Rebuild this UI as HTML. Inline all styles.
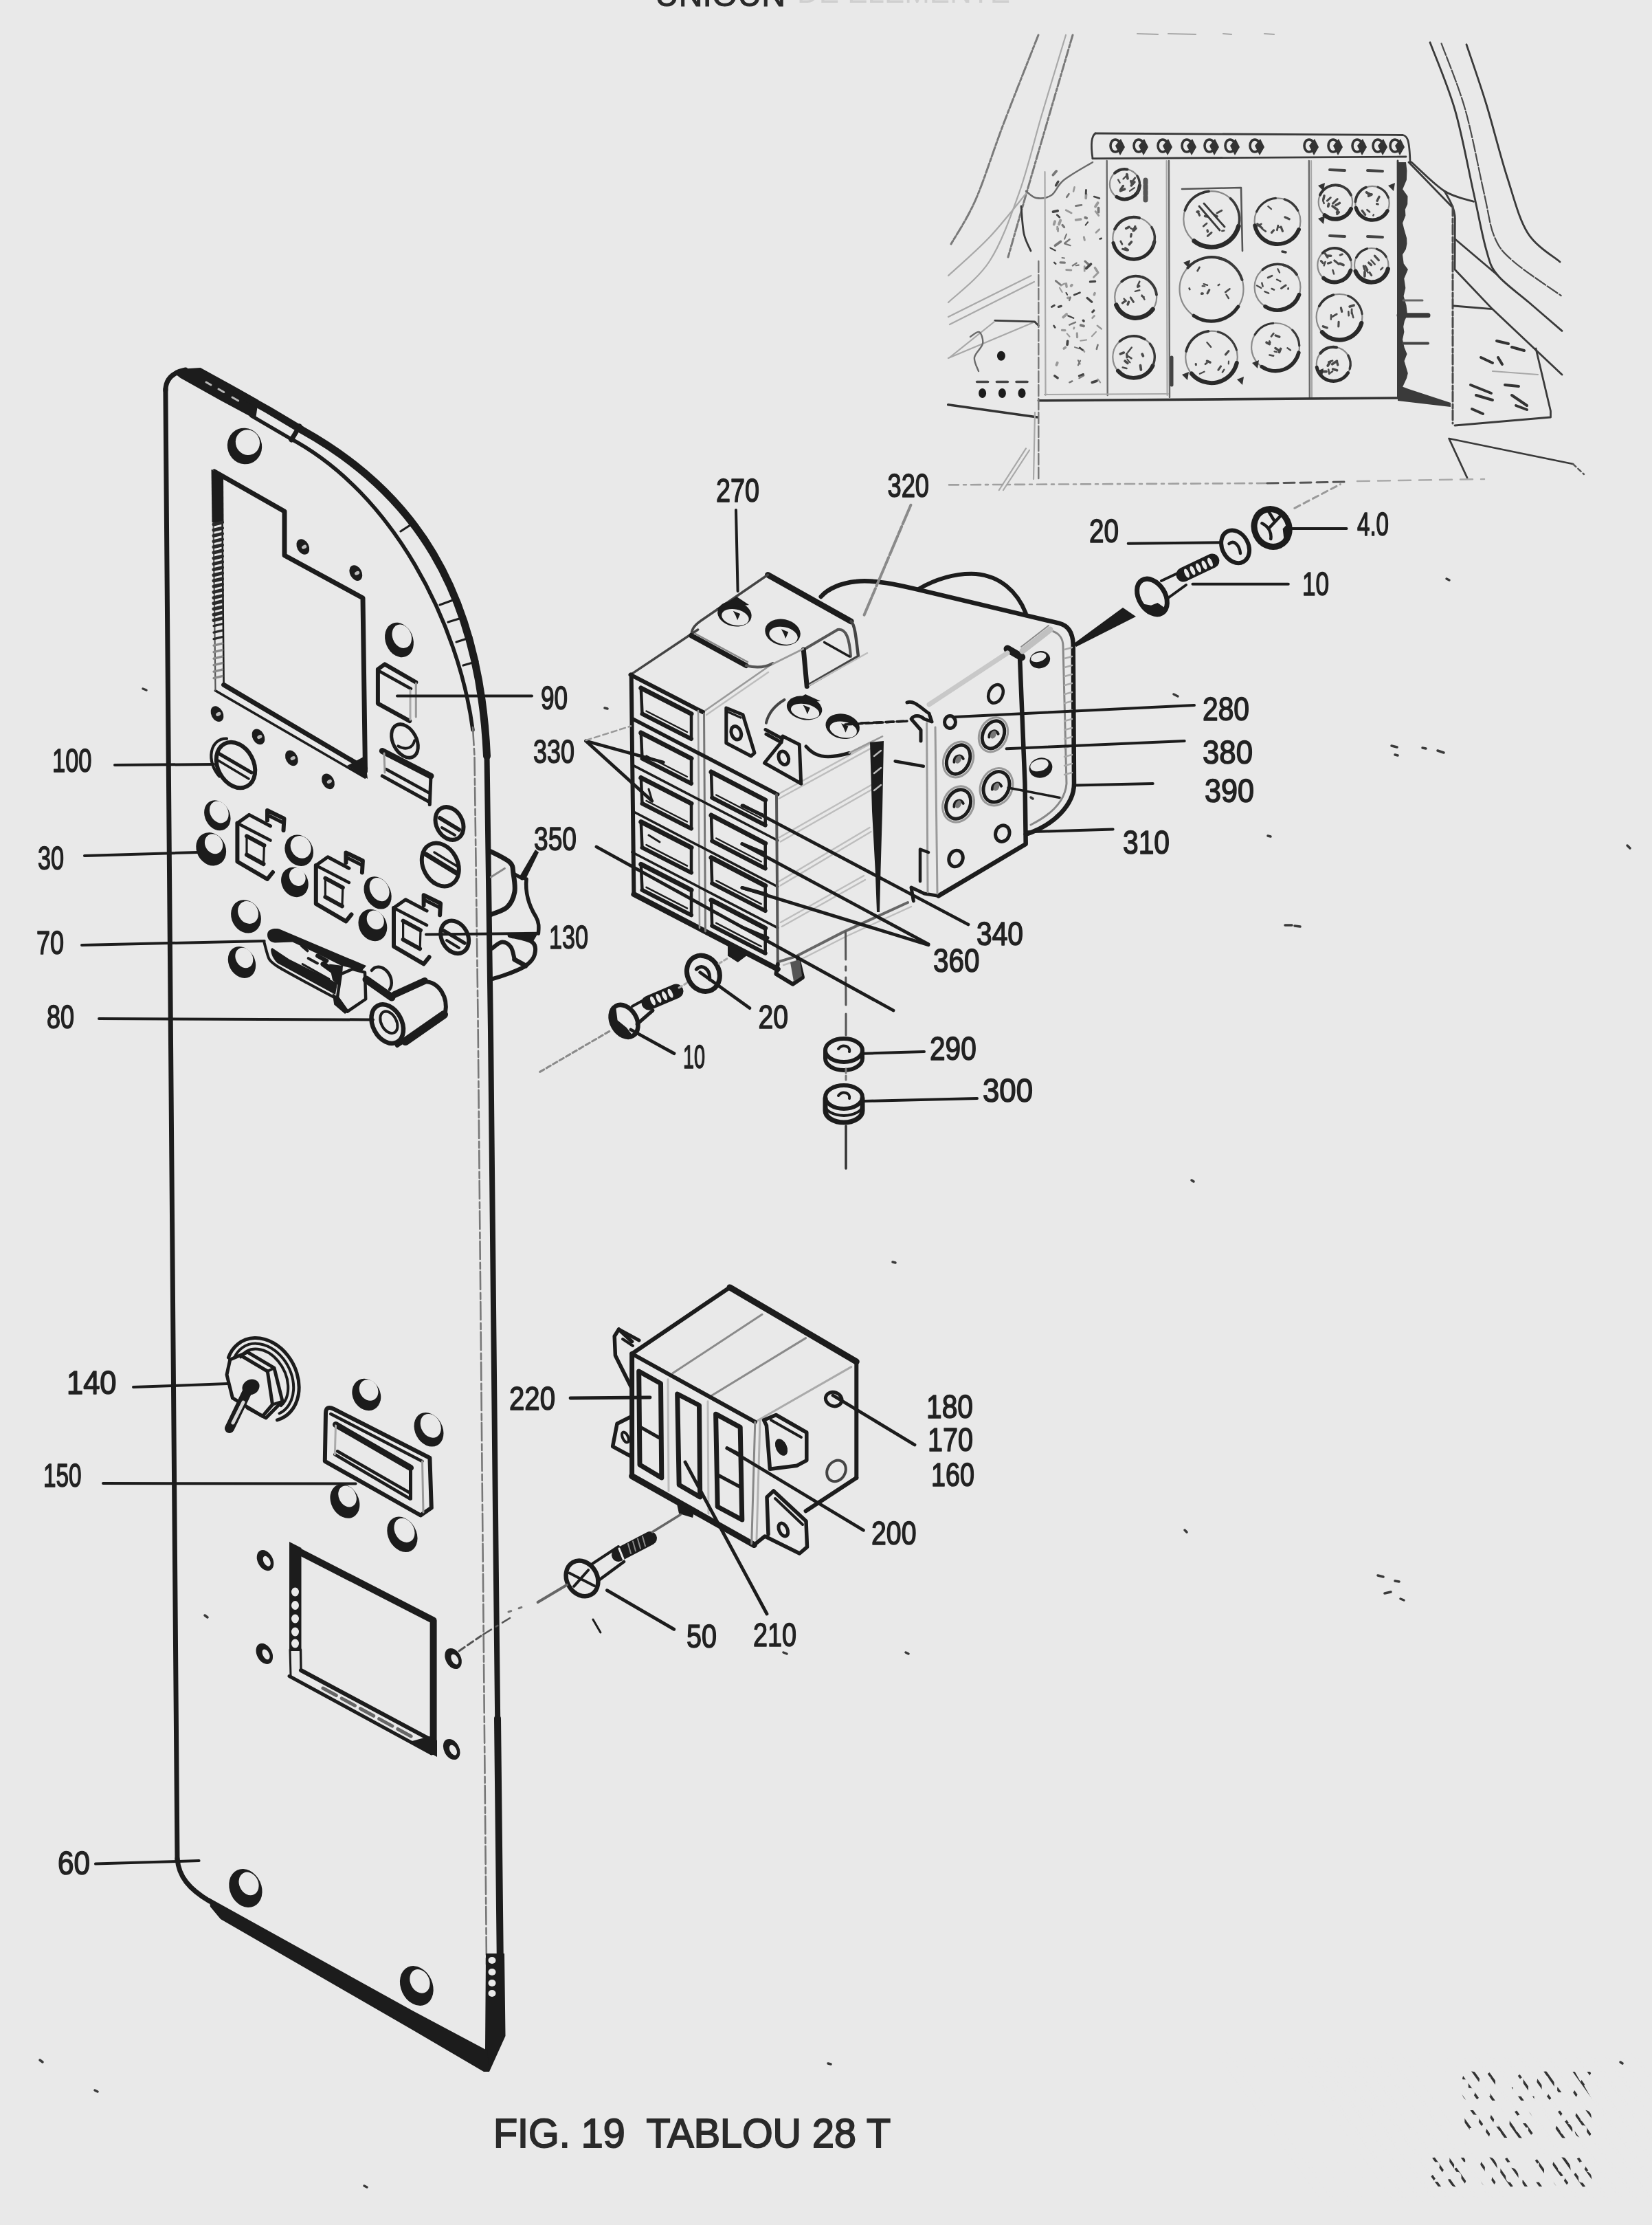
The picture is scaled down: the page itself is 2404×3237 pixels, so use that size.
<!DOCTYPE html>
<html><head><meta charset="utf-8"><title>FIG. 19 TABLOU 28 T</title>
<style>
html,body{margin:0;padding:0;background:#e9e9e9;}
body{width:2404px;height:3237px;overflow:hidden;font-family:"Liberation Sans",sans-serif;}
svg{display:block;position:absolute;left:0;top:0;filter:blur(0.6px);}
.k{fill:none;stroke:#1c1c1c;stroke-width:5;stroke-linecap:round;stroke-linejoin:round;}
.k3{fill:none;stroke:#1c1c1c;stroke-width:3.2;stroke-linecap:round;stroke-linejoin:round;}
.k4{fill:none;stroke:#1c1c1c;stroke-width:4;stroke-linecap:round;stroke-linejoin:round;}
.k6{fill:none;stroke:#1c1c1c;stroke-width:6.5;stroke-linecap:round;stroke-linejoin:round;}
.k8{fill:none;stroke:#1c1c1c;stroke-width:9;stroke-linecap:round;stroke-linejoin:round;}
.t{fill:none;stroke:#2a2a2a;stroke-width:2.4;stroke-linecap:round;stroke-linejoin:round;}
.g{fill:none;stroke:#8a8a8a;stroke-width:2;stroke-linecap:round;stroke-linejoin:round;}
.g2{fill:none;stroke:#b4b4b4;stroke-width:2.2;stroke-linecap:round;stroke-linejoin:round;}
.f{fill:#1c1c1c;stroke:none;}
.w{fill:#e9e9e9;stroke:none;}
.lb{font-family:"Liberation Sans",sans-serif;font-weight:normal;font-size:49px;fill:#222;stroke:#222;stroke-width:1.6px;stroke-linejoin:round;}
</style></head><body>
<svg width="2404" height="3237" viewBox="0 0 2404 3237">
<rect x="0" y="0" width="2404" height="3237" fill="#e9e9e9"/>
<path class="k" d="M240.9 566 L258 2706" style="stroke-width:7"/>
<path class="k" d="M240.9 568 C241 552 250 542 270 538" style="stroke-width:7"/>
<path class="f" d="M268 536.5 L291.7 535 L339 560.9 L376 582 L372 610 L320.8 582.5 L262.7 550 L255 544 Z"/>
<path class="k" d="M300 556 L307 560" style="stroke:#b8b8b8;stroke-width:3"/>
<path class="k" d="M318 566 L325.8 570.5" style="stroke:#b8b8b8;stroke-width:3"/>
<path class="k" d="M338 578 L346.7 583" style="stroke:#b8b8b8;stroke-width:3"/>
<path class="k" d="M345 571 L390.5 596.5 L440 626 C600 715 697.8 856.3 708.5 1100" style="stroke-width:11"/>
<path class="k" d="M424 640 L436 620" style="stroke-width:7"/>
<path class="k" d="M708.5 1098 L714 1500 L722 2300 L728.5 2900" style="stroke-width:8"/>
<path class="k" d="M724 2500 L729 2962" style="stroke-width:10"/>
<path class="k" d="M366 605 L420.7 637 C572.9 717.2 668 908.5 688 1062" style="stroke-width:5.5"/>
<path class="k3" d="M583 773 L600 762"/>
<path class="k3" d="M640 880 L662 872"/>
<path class="k3" d="M652 905 L675 898"/>
<path class="k3" d="M664 934 L686 927"/>
<path class="k3" d="M674 968 L695 962"/>
<path class="g" d="M688 1058 L690.5 1100 L695.5 1480 L703 2300 L708 2860" style="stroke:#777;stroke-width:2.6;stroke-dasharray:26 5 9 4"/>
<path class="f" d="M707 2842 L734 2842 L735.5 2962 L712 3014 L700 3010 L706 2982 Z"/>
<ellipse class="w" cx="716" cy="2852" rx="5.5" ry="5"/>
<ellipse class="w" cx="716" cy="2869" rx="5.5" ry="5"/>
<ellipse class="w" cx="716" cy="2885" rx="5.5" ry="5"/>
<ellipse class="w" cx="716" cy="2900" rx="5.5" ry="5"/>
<path class="f" d="M304 2761 L600 2925 L709 2983 L712 3014 L704 3014 L600 2953 L321 2792 L306 2774 Z"/>
<path class="k" d="M258 2704 C260 2730 275 2748 305 2766" style="stroke-width:7"/>
<g transform="translate(356 649) rotate(-20)"><ellipse class="f" rx="25" ry="26.5"/><ellipse class="w" cx="6" cy="-3.5" rx="17.5" ry="18.5"/></g>
<g transform="translate(581 931) rotate(-22)"><ellipse class="f" rx="20" ry="26"/><ellipse class="w" cx="5.5" cy="-3.5" rx="13.6" ry="17.7"/></g>
<g transform="translate(357.4 2747) rotate(-25)"><ellipse class="f" rx="23" ry="29"/><ellipse class="w" cx="7" cy="-4" rx="13.8" ry="17.4"/></g>
<g transform="translate(606.3 2889) rotate(-25)"><ellipse class="f" rx="23" ry="30"/><ellipse class="w" cx="7" cy="-4" rx="13.8" ry="18"/></g>

<path class="k" d="M312 686 L414 744 L414 808 L528 870 L531.5 1122" style="stroke-width:7"/>
<path class="k" d="M531.5 1118 L325.6 996.3" style="stroke-width:7"/>
<path class="k" d="M531 1131 L313.5 1004.8" style="stroke-width:3.6"/>
<path class="f" d="M531 1100 L535 1133 L505 1114 Z"/>
<path class="k" d="M309.6 684 L313.5 1004" style="stroke-width:2.2;stroke:#555"/>
<path class="k" d="M323 696 L325.6 996" style="stroke-width:2.6"/>
<path class="f" d="M307.5 683 L325 694 L325.5 760 L308.5 760 Z"/>
<path class="k" d="M311 763 L323.5 760" style="stroke-width:5.0;stroke:#2a2a2a"/>
<path class="k" d="M311 771.2 L323.5 768.2" style="stroke-width:5.0;stroke:#2a2a2a"/>
<path class="k" d="M311 779.4 L323.5 776.4" style="stroke-width:5.0;stroke:#2a2a2a"/>
<path class="k" d="M311 787.6 L323.5 784.6" style="stroke-width:5.0;stroke:#2a2a2a"/>
<path class="k" d="M311 795.8 L323.5 792.8" style="stroke-width:5.0;stroke:#2a2a2a"/>
<path class="k" d="M311 804 L323.5 801" style="stroke-width:5.0;stroke:#2a2a2a"/>
<path class="k" d="M311 812.2 L323.5 809.2" style="stroke-width:5.0;stroke:#2a2a2a"/>
<path class="k" d="M311 820.4 L323.5 817.4" style="stroke-width:5.0;stroke:#2a2a2a"/>
<path class="k" d="M311 828.6 L323.5 825.6" style="stroke-width:5.0;stroke:#2a2a2a"/>
<path class="k" d="M311 836.8 L323.5 833.8" style="stroke-width:5.0;stroke:#2a2a2a"/>
<path class="k" d="M311 845 L323.5 842" style="stroke-width:5.0;stroke:#2a2a2a"/>
<path class="k" d="M311 853.2 L323.5 850.2" style="stroke-width:5.0;stroke:#2a2a2a"/>
<path class="k" d="M311 861.4 L323.5 858.4" style="stroke-width:5.0;stroke:#2a2a2a"/>
<path class="k" d="M311 869.6 L323.5 866.6" style="stroke-width:5.0;stroke:#2a2a2a"/>
<path class="k" d="M311 877.8 L323.5 874.8" style="stroke-width:5.0;stroke:#2a2a2a"/>
<path class="k" d="M311 886 L323.5 883" style="stroke-width:5.0;stroke:#2a2a2a"/>
<path class="k" d="M311 894.2 L323.5 891.2" style="stroke-width:5.0;stroke:#2a2a2a"/>
<path class="k" d="M311 902.4 L323.5 899.4" style="stroke-width:5.0;stroke:#2a2a2a"/>
<path class="k" d="M311 910.6 L323.5 907.6" style="stroke-width:3.2;stroke:#2a2a2a"/>
<path class="k" d="M311 920.1 L323.5 917.1" style="stroke-width:3.2;stroke:#2a2a2a"/>
<path class="k" d="M311 929.6 L323.5 926.6" style="stroke-width:3.2;stroke:#2a2a2a"/>
<path class="k" d="M311 939.1 L323.5 936.1" style="stroke-width:3.2;stroke:#8a8a8a"/>
<path class="k" d="M311 948.6 L323.5 945.6" style="stroke-width:3.2;stroke:#8a8a8a"/>
<path class="k" d="M311 958.1 L323.5 955.1" style="stroke-width:3.2;stroke:#8a8a8a"/>
<path class="k" d="M311 967.6 L323.5 964.6" style="stroke-width:3.2;stroke:#8a8a8a"/>
<path class="k" d="M311 977.1 L323.5 974.1" style="stroke-width:3.2;stroke:#8a8a8a"/>
<path class="k" d="M311 986.6 L323.5 983.6" style="stroke-width:3.2;stroke:#8a8a8a"/>
<g transform="translate(440.8 795.5) rotate(-28)"><ellipse class="f" rx="8.5" ry="12"/><ellipse cx="1.5" cy="1" rx="3.8" ry="2.6" fill="#bbb"/></g>
<g transform="translate(517.8 833.6) rotate(-28)"><ellipse class="f" rx="8.5" ry="12"/><ellipse cx="1.5" cy="1" rx="3.8" ry="2.6" fill="#bbb"/></g>
<g transform="translate(316 1038.7) rotate(-28)"><ellipse class="f" rx="8.5" ry="12"/><ellipse cx="1.5" cy="1" rx="3.8" ry="2.6" fill="#bbb"/></g>
<g transform="translate(376 1071.9) rotate(-28)"><ellipse class="f" rx="8.5" ry="12"/><ellipse cx="1.5" cy="1" rx="3.8" ry="2.6" fill="#bbb"/></g>
<g transform="translate(424.4 1102.9) rotate(-28)"><ellipse class="f" rx="8.5" ry="12"/><ellipse cx="1.5" cy="1" rx="3.8" ry="2.6" fill="#bbb"/></g>
<g transform="translate(477.5 1136.8) rotate(-28)"><ellipse class="f" rx="8.5" ry="12"/><ellipse cx="1.5" cy="1" rx="3.8" ry="2.6" fill="#bbb"/></g>
<path class="k" d="M429 2254 L630.6 2357.4 L630.6 2548" style="stroke-width:10"/>
<path class="f" d="M421 2243 L438.5 2252 L438.5 2402 L421 2402 Z"/>
<ellipse class="w" cx="429.5" cy="2316" rx="5.5" ry="6.5"/>
<ellipse class="w" cx="429.5" cy="2335.5" rx="5.5" ry="6.5"/>
<ellipse class="w" cx="429.5" cy="2355" rx="5.5" ry="6.5"/>
<ellipse class="w" cx="429.5" cy="2374" rx="5.5" ry="6.5"/>
<ellipse class="w" cx="429.5" cy="2391" rx="5.5" ry="6.5"/>
<path class="k" d="M422 2400 L423 2438" style="stroke-width:3"/>
<path class="k" d="M437.5 2400 L438 2430" style="stroke-width:3.4"/>
<path class="k" d="M438 2430 L628 2531.7" style="stroke-width:6"/>
<path class="k" d="M421 2438.5 L628 2551" style="stroke-width:5"/>
<path class="f" d="M625 2526 L636 2532 L636 2556 L596 2534 Z"/>
<path class="k" d="M470 2456 L600 2527" style="stroke-width:5;stroke:#666;stroke-dasharray:22 9"/>
<g transform="translate(386 2270.2) rotate(-28)"><ellipse class="f" rx="11" ry="16"/><ellipse class="w" cx="1.5" cy="2" rx="4.6" ry="8"/></g>
<g transform="translate(384.8 2405.8) rotate(-28)"><ellipse class="f" rx="11" ry="16"/><ellipse class="w" cx="1.5" cy="2" rx="4.6" ry="8"/></g>
<g transform="translate(659.6 2413) rotate(-28)"><ellipse class="f" rx="11" ry="16"/><ellipse class="w" cx="1.5" cy="2" rx="4.6" ry="8"/></g>
<g transform="translate(657.2 2545) rotate(-28)"><ellipse class="f" rx="11" ry="16"/><ellipse class="w" cx="1.5" cy="2" rx="4.6" ry="8"/></g>
<path class="g" d="M668 2402 L700 2380" style="stroke:#555;stroke-width:3;stroke-dasharray:10 5"/>
<path class="g" d="M703 2378 L742 2354" style="stroke:#555;stroke-width:2.6;stroke-dasharray:14 8 3 8"/>

<g transform="translate(343 1113) rotate(-28)"><ellipse class="k" rx="26" ry="35" style="stroke-width:6"/><path class="k" style="stroke-width:4.199999999999999" d="M-28.7 3.5 A26 35 0 0 1 6.5 -40"/></g>
<path class="k" d="M318 1096 L366 1124" style="stroke-width:5"/>
<path class="k" d="M317 1106 L362 1133" style="stroke-width:3.5"/>
<g transform="translate(316.3 1186.3) rotate(-28)"><ellipse class="f" rx="18" ry="23"/><ellipse class="w" cx="4.5" cy="-3.1" rx="13" ry="16.6"/></g>
<g transform="translate(307.2 1235.3) rotate(-28)"><ellipse class="f" rx="21" ry="25"/><ellipse class="w" cx="7" cy="-4.9" rx="12.6" ry="15"/></g>
<g transform="translate(435.2 1237.2) rotate(-28)"><ellipse class="f" rx="20" ry="23.5"/><ellipse class="w" cx="4.5" cy="-3.1" rx="14.4" ry="16.9"/></g>
<g transform="translate(428.9 1283.5) rotate(-28)"><ellipse class="f" rx="19" ry="22.5"/><ellipse class="w" cx="7" cy="-4.9" rx="11.4" ry="13.5"/></g>
<g transform="translate(358 1333.4) rotate(-28)"><ellipse class="f" rx="21" ry="25"/><ellipse class="w" cx="5.5" cy="-3.8" rx="14.3" ry="17"/></g>
<g transform="translate(549.6 1298.9) rotate(-28)"><ellipse class="f" rx="18.5" ry="25"/><ellipse class="w" cx="4.5" cy="-3.1" rx="13.3" ry="18"/></g>
<g transform="translate(542.4 1346) rotate(-28)"><ellipse class="f" rx="20" ry="24"/><ellipse class="w" cx="7" cy="-4.9" rx="12" ry="14.4"/></g>
<g transform="translate(352 1400) rotate(-28)"><ellipse class="f" rx="19" ry="24"/><ellipse class="w" cx="6" cy="-4.2" rx="12.2" ry="15.4"/></g>
<path class="k" d="M345.4 1197.6 L345.4 1253.5 L389 1279 L397 1269" style="stroke-width:6"/>
<path class="k" d="M345.4 1197.6 L362.6 1185.4 L393.5 1201.8" style="stroke-width:5"/>
<path class="k" d="M349 1199.5 L393.5 1222.6" style="stroke-width:4.5"/>
<path class="k" d="M359 1216.3 L384.4 1230" style="stroke-width:6"/>
<path class="k" d="M359 1243.5 L383.5 1257" style="stroke-width:6"/>
<path class="k3" d="M359 1216.3 L359 1243.5"/>
<path class="k3" d="M384.4 1230 L383.5 1257"/>
<path class="k" d="M389 1193.6 L389 1179 L413.5 1190.9 L412.5 1208" style="stroke-width:6"/>
<path class="k" d="M390 1186 L412 1197" style="stroke-width:5"/>
<path class="k" d="M459.8 1259 L459.8 1314.9 L503.4 1340.4 L511.4 1330.4" style="stroke-width:6"/>
<path class="k" d="M459.8 1259 L477 1246.8 L507.9 1263.2" style="stroke-width:5"/>
<path class="k" d="M463.4 1260.9 L507.9 1284" style="stroke-width:4.5"/>
<path class="k" d="M473.4 1277.7 L498.8 1291.4" style="stroke-width:6"/>
<path class="k" d="M473.4 1304.9 L497.9 1318.4" style="stroke-width:6"/>
<path class="k3" d="M473.4 1277.7 L473.4 1304.9"/>
<path class="k3" d="M498.8 1291.4 L497.9 1318.4"/>
<path class="k" d="M503.4 1255 L503.4 1240.4 L527.9 1252.3 L526.9 1269.4" style="stroke-width:6"/>
<path class="k" d="M504.4 1247.4 L526.4 1258.4" style="stroke-width:5"/>
<path class="k" d="M573 1320.9 L573 1376.8 L616.6 1402.3 L624.6 1392.3" style="stroke-width:6"/>
<path class="k" d="M573 1320.9 L590.2 1308.7 L621.1 1325.1" style="stroke-width:5"/>
<path class="k" d="M576.6 1322.8 L621.1 1345.9" style="stroke-width:4.5"/>
<path class="k" d="M586.6 1339.6 L612 1353.3" style="stroke-width:6"/>
<path class="k" d="M586.6 1366.8 L611.1 1380.3" style="stroke-width:6"/>
<path class="k3" d="M586.6 1339.6 L586.6 1366.8"/>
<path class="k3" d="M612 1353.3 L611.1 1380.3"/>
<path class="k" d="M616.6 1316.9 L616.6 1302.3 L641.1 1314.2 L640.1 1331.3" style="stroke-width:6"/>
<path class="k" d="M617.6 1309.3 L639.6 1320.3" style="stroke-width:5"/>
<path class="k" d="M605.3 992.7 L559.9 966.3 L549.9 973.6 L549.9 1023.5 L596.2 1049" style="stroke-width:6"/>
<path class="k" d="M553 977 L598 1002" style="stroke-width:4.5"/>
<path class="g" d="M605.3 994 L605.3 1043" style="stroke:#999;stroke-width:3"/>
<path class="g" d="M597 1004 L597 1047" style="stroke:#aaa;stroke-width:3"/>
<g transform="translate(589 1078) rotate(-28)"><ellipse class="k" rx="17" ry="26" style="stroke-width:5"/><path class="k" style="stroke-width:4" d="M-12 2 C-4 14 6 14 13 6"/></g>
<path class="k" d="M556.3 1092.5 L627 1128.9" style="stroke-width:9"/>
<path class="k" d="M627 1128.9 L625.3 1170.6" style="stroke-width:5"/>
<path class="k" d="M556.3 1128.9 L625.3 1167" style="stroke-width:5"/>
<path class="k" d="M561.7 1119 L623.5 1153" style="stroke-width:4.5"/>
<path class="g" d="M559 1096 L560 1124" style="stroke:#999;stroke-width:3"/>
<g transform="translate(654 1198) rotate(-28)"><ellipse class="k" rx="19" ry="25" style="stroke-width:6"/></g>
<path class="k" d="M640 1190 L668 1207" style="stroke-width:6"/>
<path class="k" d="M643 1204 L662 1215" style="stroke-width:4"/>
<g transform="translate(640.8 1258) rotate(-28)"><ellipse class="k" rx="25" ry="33" style="stroke-width:6"/></g>
<path class="k" d="M620 1243 L664 1270" style="stroke-width:7"/>
<path class="k" d="M632 1240 L668 1262" style="stroke-width:3.5"/>
<g transform="translate(661.7 1363.3) rotate(-28)"><ellipse class="k" rx="19" ry="25" style="stroke-width:6"/></g>
<path class="k" d="M646 1354 L676 1372" style="stroke-width:5.5"/>
<path class="k" d="M650 1368 L668 1379" style="stroke-width:4"/>
<path class="f" d="M389 1360 C389 1352 398 1350 406.3 1351.5 L533 1405 L527 1412 L497 1405 L462 1387.5 L425.7 1370.5 L400 1371.5 C393 1371 389 1366 389 1360 Z"/>
<path class="f" d="M396 1379 L420.8 1395.4 L491 1430.5 L488 1447 L403.9 1401.2 C398 1396 394 1388 394.2 1381 Z"/>
<path class="k" d="M384.5 1371.2 C385.4 1374 389.3 1391.2 391.8 1395.4 C394.3 1399.6 399.9 1403.5 406.3 1407.5 C412.7 1411.5 437.4 1424.8 447 1430 C456.6 1435.2 483.7 1449.7 488.6 1452.3" style="stroke-width:4"/>
<path class="k" d="M439 1376 L447.5 1383.3" style="stroke-width:4"/>
<path class="k" d="M448.7 1394.2 L462 1401.4" style="stroke-width:4"/>
<path class="k" d="M440.2 1402.6 L479 1424.4" style="stroke-width:3"/>
<path class="k" d="M462 1390.5 L475.3 1397.8" style="stroke-width:6"/>
<path class="k" d="M470.5 1402.6 L491 1417.2" style="stroke-width:8"/>
<path class="f" d="M479 1402.6 L499 1405 L498 1418 L492 1433 L484 1426 Z"/>
<path d="M495.9 1417.2 L512.9 1409.9 L531 1414.7 L532.2 1453.5 L505.6 1471.6 L491 1451 Z" fill="#e9e9e9" stroke="#1c1c1c" stroke-width="4.5" stroke-linejoin="round"/>
<path class="f" d="M483.8 1445 L492.3 1451 L506.8 1471.6 L502 1475 L486.2 1461.5 Z"/>
<path class="k" d="M533 1425 L570 1451" style="stroke-width:11"/>
<g transform="translate(554 1425.6) rotate(-25)"><path class="k" style="stroke-width:4.5" d="M-6 -18 A14.5 19.4 0 0 1 6 18"/></g>
<path class="k" d="M572 1449 L617 1428 C640 1428 652 1452 648 1473 L578 1521" style="stroke-width:6"/>
<path class="k" d="M574 1447 L618 1427" style="stroke-width:10"/>
<path class="k" d="M646 1476 L590 1515" style="stroke-width:12"/>
<g transform="translate(563.7 1489.6) rotate(-28)"><ellipse class="k" rx="21" ry="30" style="stroke-width:6.5" fill="#e9e9e9"/><ellipse class="k" cx="3" cy="-1" rx="11" ry="17" style="stroke-width:4"/></g>

<g transform="translate(382 2007) rotate(-28)"><path class="k" style="stroke-width:5" d="M-28.7 -51.6 A50 63 0 1 1 -8.7 62.0"/><path class="k" style="stroke-width:4" d="M-21.0 -47.6 A42 55 0 1 1 -1.5 55.0"/><path class="k" style="stroke-width:4" d="M-12.7 -43.6 A34 47 0 1 1 5.9 46.3"/></g>
<path class="k" d="M334.8 1978 L360.2 1967.2 L399 1990.2 L411 2038.6 L386.9 2062.9 L360.2 2048.3" style="stroke-width:5"/>
<path class="k" d="M334.8 1978 L330 2000 L338.4 2033.8 L382 2060.4 L396.5 2043.5 L389.3 1995 L350.5 1972" style="stroke-width:5"/>
<path class="k4" d="M389.3 1995 L399 1990.2"/>
<path class="k4" d="M396.5 2043.5 L411 2038.6"/>
<ellipse class="f" cx="365" cy="2018" rx="13" ry="11" transform="rotate(-30 365 2018)"/>
<path class="k" d="M360 2024 L334 2078" style="stroke-width:14"/>
<path class="k" d="M354 2040 L339 2070" style="stroke:#d8d8d8;stroke-width:5"/>
<ellipse class="w" cx="345" cy="2017" rx="6" ry="8"/>
<path class="k" d="M474 2056 C474 2048 478 2046 486 2050 L625.4 2121 L627.8 2193.6 L612 2204.5 L472.8 2125.8 Z" style="stroke-width:6"/>
<path class="k" d="M481.3 2057 L614.5 2126" style="stroke-width:4.5"/>
<path class="g" d="M614.5 2126 L616 2200" style="stroke:#999;stroke-width:3"/>
<path class="k" d="M488.5 2072.5 L597.5 2135.5" style="stroke-width:9"/>
<path class="k" d="M597.5 2135.5 L597.5 2180.3" style="stroke-width:5"/>
<path class="k" d="M491 2111.3 L596.3 2171.8" style="stroke-width:4.5"/>
<path class="k" d="M487.3 2116 L596.3 2180.3" style="stroke-width:4.5"/>
<path class="g" d="M488.5 2074 L487.3 2116" style="stroke:#aaa;stroke-width:3"/>
<g transform="translate(533.3 2029) rotate(-28)"><ellipse class="f" rx="20" ry="24"/><ellipse class="w" cx="6" cy="-4.2" rx="13.2" ry="15.8"/></g>
<g transform="translate(624 2079.8) rotate(-28)"><ellipse class="f" rx="20" ry="26"/><ellipse class="w" cx="5" cy="-3.5" rx="14" ry="18.2"/></g>
<g transform="translate(501.9 2184) rotate(-28)"><ellipse class="f" rx="20" ry="26"/><ellipse class="w" cx="6.5" cy="-4.5" rx="12.4" ry="16.1"/></g>
<g transform="translate(585.4 2232.3) rotate(-28)"><ellipse class="f" rx="20.5" ry="27"/><ellipse class="w" cx="5.5" cy="-3.8" rx="13.9" ry="18.4"/></g>

<path class="g" d="M1131.7 1155.7 L1265.5 1082.6" style="stroke:#bdbdbd;stroke-width:2.4"/>
<path class="g" d="M1133.7 1161.7 L1267.5 1088.6" style="stroke:#bdbdbd;stroke-width:2.4"/>
<path class="g" d="M1133.8 1218.5 L1267.5 1142.3" style="stroke:#bdbdbd;stroke-width:2.4"/>
<path class="g" d="M1135.8 1224.5 L1269.5 1148.3" style="stroke:#bdbdbd;stroke-width:2.4"/>
<path class="g" d="M1133.8 1282.3 L1265.5 1204" style="stroke:#bdbdbd;stroke-width:2.4"/>
<path class="g" d="M1135.8 1288.3 L1267.5 1210" style="stroke:#bdbdbd;stroke-width:2.4"/>
<path class="g" d="M1135.8 1342 L1257 1274" style="stroke:#bdbdbd;stroke-width:2.4"/>
<path class="g" d="M1137.8 1348 L1259 1280" style="stroke:#bdbdbd;stroke-width:2.4"/>
<path class="g" d="M1022.9 1036 L1122 967" style="stroke:#9a9a9a;stroke-width:2.6"/>
<path class="g" d="M1028 1040 L1118 978" style="stroke:#bdbdbd;stroke-width:2.4"/>
<path class="g" d="M1131.7 1399.6 L1158.5 1391.3 L1226.4 1356.4 L1321 1313" style="stroke:#666;stroke-width:4"/>
<path class="g" d="M1140 1404 L1165 1396 L1232 1362 L1326 1319" style="stroke:#bdbdbd;stroke-width:2.4"/>
<path class="k" d="M917.5 981.6 L1015.6 916" style="stroke-width:3.5;stroke:#444"/>
<path class="k" d="M918.7 981.6 L922.4 1301" style="stroke-width:6"/>
<path class="k" d="M917.5 981.6 L1022.9 1036" style="stroke-width:6"/>
<path class="k" d="M922.4 1301 L1131.8 1410" style="stroke-width:8"/>
<path class="g" d="M1016 1034 L1018 1350" style="stroke:#999;stroke-width:2.6"/>
<path class="g" d="M1024.5 1038 L1026.5 1355" style="stroke:#777;stroke-width:3"/>
<path class="k" d="M932.8 1001 L1006 1038.5" style="stroke-width:7"/>
<path class="k" d="M934.5 1038.5 L1006 1075" style="stroke-width:6"/>
<path class="k" d="M932.8 1001 L934.5 1038.5" style="stroke-width:4.5"/>
<path class="k" d="M1006 1038.5 L1006 1075" style="stroke-width:4.5"/>
<path class="k" d="M940.5 1034.5 L1000 1065" style="stroke-width:2.5"/>
<path class="k" d="M932.8 1066 L1006 1103.5" style="stroke-width:7"/>
<path class="k" d="M934.5 1103.5 L1006 1140" style="stroke-width:6"/>
<path class="k" d="M932.8 1066 L934.5 1103.5" style="stroke-width:4.5"/>
<path class="k" d="M1006 1103.5 L1006 1140" style="stroke-width:4.5"/>
<path class="k" d="M940.5 1099.5 L1000 1130" style="stroke-width:2.5"/>
<path class="k" d="M932.8 1131.5 L1006 1169" style="stroke-width:7"/>
<path class="k" d="M934.5 1169 L1006 1205.5" style="stroke-width:6"/>
<path class="k" d="M932.8 1131.5 L934.5 1169" style="stroke-width:4.5"/>
<path class="k" d="M1006 1169 L1006 1205.5" style="stroke-width:4.5"/>
<path class="k" d="M940.5 1165 L1000 1195.5" style="stroke-width:2.5"/>
<path class="k" d="M932.8 1195.6 L1006 1233.1" style="stroke-width:7"/>
<path class="k" d="M934.5 1233.1 L1006 1269.6" style="stroke-width:6"/>
<path class="k" d="M932.8 1195.6 L934.5 1233.1" style="stroke-width:4.5"/>
<path class="k" d="M1006 1233.1 L1006 1269.6" style="stroke-width:4.5"/>
<path class="k" d="M940.5 1229.1 L1000 1259.6" style="stroke-width:2.5"/>
<path class="k" d="M932.8 1257.4 L1006 1294.9" style="stroke-width:7"/>
<path class="k" d="M934.5 1294.9 L1006 1331.4" style="stroke-width:6"/>
<path class="k" d="M932.8 1257.4 L934.5 1294.9" style="stroke-width:4.5"/>
<path class="k" d="M1006 1294.9 L1006 1331.4" style="stroke-width:4.5"/>
<path class="k" d="M940.5 1290.9 L1000 1321.4" style="stroke-width:2.5"/>
<path class="k" d="M919.8 1045.4 L1131.7 1155.7" style="stroke-width:5.5"/>
<path class="k" d="M919.8 1112.6 L1131.7 1222.8" style="stroke-width:3.5"/>
<path class="k" d="M919.8 1179.8 L1131.7 1290" style="stroke-width:3.5"/>
<path class="k" d="M919.8 1239.7 L1131.7 1349.9" style="stroke-width:3.5"/>
<path class="k" d="M1130 1156 L1131.8 1404" style="stroke-width:4;stroke:#555"/>
<path class="k" d="M1035 1123 L1113.7 1164" style="stroke-width:7"/>
<path class="k" d="M1036.2 1160.5 L1113.7 1200.5" style="stroke-width:6"/>
<path class="k" d="M1035 1123 L1036.2 1160.5" style="stroke-width:4.5"/>
<path class="k" d="M1113.7 1164 L1113.7 1200.5" style="stroke-width:4.5"/>
<path class="k" d="M1042.2 1156.5 L1107.7 1190.5" style="stroke-width:2.5"/>
<path class="k" d="M1035 1186 L1113.7 1227" style="stroke-width:7"/>
<path class="k" d="M1036.2 1223.5 L1113.7 1263.5" style="stroke-width:6"/>
<path class="k" d="M1035 1186 L1036.2 1223.5" style="stroke-width:4.5"/>
<path class="k" d="M1113.7 1227 L1113.7 1263.5" style="stroke-width:4.5"/>
<path class="k" d="M1042.2 1219.5 L1107.7 1253.5" style="stroke-width:2.5"/>
<path class="k" d="M1035 1247.7 L1113.7 1288.7" style="stroke-width:7"/>
<path class="k" d="M1036.2 1285.2 L1113.7 1325.2" style="stroke-width:6"/>
<path class="k" d="M1035 1247.7 L1036.2 1285.2" style="stroke-width:4.5"/>
<path class="k" d="M1113.7 1288.7 L1113.7 1325.2" style="stroke-width:4.5"/>
<path class="k" d="M1042.2 1281.2 L1107.7 1315.2" style="stroke-width:2.5"/>
<path class="k" d="M1035 1309.4 L1113.7 1350.4" style="stroke-width:7"/>
<path class="k" d="M1036.2 1346.9 L1113.7 1386.9" style="stroke-width:6"/>
<path class="k" d="M1035 1309.4 L1036.2 1346.9" style="stroke-width:4.5"/>
<path class="k" d="M1113.7 1350.4 L1113.7 1386.9" style="stroke-width:4.5"/>
<path class="k" d="M1042.2 1342.9 L1107.7 1376.9" style="stroke-width:2.5"/>
<path class="k" d="M1080 1172 L1109 1185.5" style="stroke-width:5"/>
<path class="k" d="M1080 1227.7 L1112 1241" style="stroke-width:5"/>
<path class="k" d="M1080 1291.5 L1115 1301" style="stroke-width:5"/>
<path class="k" d="M1080 1349 L1117 1364.6" style="stroke-width:5"/>
<path class="k" d="M940 1102 L965 1109" style="stroke-width:3"/>
<path class="k" d="M944 1148 L949 1165" style="stroke-width:3"/>
<path class="k" d="M944 1215 L960 1225" style="stroke-width:3"/>
<path class="f" d="M1059 1372 L1059 1390.6 L1073.7 1400 L1087 1390 Z"/>
<path class="k" d="M1131.8 1402.7 L1129.4 1417 L1153.6 1431.7 L1168 1422 L1161 1393" style="stroke-width:6"/>
<path d="M1150 1400 L1164 1396 L1167 1420 L1155 1428 Z" fill="#555"/>
<path class="k" d="M1117.3 836.3 L1238.4 904" style="stroke-width:8.5"/>
<path class="k" d="M1117.3 836.3 L1020 903 C1010 910 1006 916 1006 924.7" style="stroke-width:3.5;stroke:#444"/>
<path class="k" d="M1006 924.7 L1085.8 968.3" style="stroke-width:7.5"/>
<path class="k" d="M1085.8 968.3 C1100 972 1112 972 1124.6 965" style="stroke-width:4;stroke:#555"/>
<path class="g" d="M1012 922 L1088 963" style="stroke:#888;stroke-width:2.5"/>
<path class="k" d="M1238.4 904 C1244 908 1246 930 1249 955 L1177.8 996" style="stroke-width:4.5;stroke:#444"/>
<path class="k" d="M1169.3 945.3 L1219 916 C1232 914 1236 930 1238 955" style="stroke-width:4;stroke:#555"/>
<path class="k" d="M1199.6 934.4 L1236 955" style="stroke-width:3.5"/>
<path class="k" d="M1169.3 945.3 L1174.2 998.5" style="stroke-width:7"/>
<path class="g" d="M1124.6 966 L1169 944" style="stroke:#9a9a9a;stroke-width:2.6"/>
<g transform="translate(1068.9 893.2) rotate(12)"><ellipse class="f" rx="25" ry="18"/><ellipse class="w" cx="2" cy="4.5" rx="20" ry="11.5"/><path class="f" d="M-3 -4 L8 -2 L6 8 L2 2 Z"/></g>
<g transform="translate(1139 919.9) rotate(12)"><ellipse class="f" rx="26" ry="19"/><ellipse class="w" cx="2" cy="4.5" rx="21" ry="12.5"/><path class="f" d="M-3 -4 L8 -2 L6 8 L2 2 Z"/></g>
<path class="f" d="M1042 886 L1072 868 L1090 880 L1060 884 Z"/>
<path class="k" d="M1056.8 1030 L1081 1039.7 L1098 1095.4 L1093 1100 L1056.8 1081 Z" style="stroke-width:5"/>
<path class="k3" d="M1060 1036 L1078 1044"/>
<ellipse class="k" cx="1071.3" cy="1066.3" rx="7" ry="10" transform="rotate(-20 1071.3 1066.3)" style="stroke-width:5"/>
<path class="k" d="M1115 1068 L1137 1080 L1139 1071 L1163.3 1083.3 L1165.7 1140" style="stroke-width:5"/>
<path class="k" d="M1114 1061.5 L1136.7 1073.6" style="stroke-width:5"/>
<path class="k" d="M1136.7 1080 L1112.4 1110 L1165.7 1140" style="stroke-width:5"/>
<ellipse class="k" cx="1140.3" cy="1102.7" rx="7" ry="10" transform="rotate(-20 1140.3 1102.7)" style="stroke-width:5"/>
<g transform="translate(1170.6 1030) rotate(12)"><ellipse class="f" rx="26" ry="17"/><ellipse class="w" cx="2" cy="4.5" rx="21" ry="10.5"/><path class="f" d="M-3 -4 L8 -2 L6 8 L2 2 Z"/></g>
<g transform="translate(1226.2 1056.7) rotate(12)"><ellipse class="f" rx="25" ry="18"/><ellipse class="w" cx="2" cy="4.5" rx="20" ry="11.5"/><path class="f" d="M-3 -4 L8 -2 L6 8 L2 2 Z"/></g>
<path class="f" d="M1146 1026 L1172 1010 L1194 1020 L1165 1022 Z"/>
<path class="k" d="M1141.5 1018 C1128 1026 1118 1038 1114.9 1051.8" style="stroke-width:4;stroke:#444"/>
<path class="k" d="M1172.9 1085.8 C1185 1100 1200 1106 1235.8 1095.5" style="stroke-width:5"/>
<path class="g" d="M1235.8 1095.5 L1284 1071.3" style="stroke:#9a9a9a;stroke-width:2.6"/>
<path class="k" d="M1252.8 1052 L1323 1049" style="stroke-width:3.5;stroke-dasharray:12 6"/>
<path class="g" d="M1178 997 L1262 950" style="stroke:#bdbdbd;stroke-width:2.4"/>
<path class="k" d="M1194.7 868 C1205 856 1225 848 1245.5 846 C1262 844 1290 846 1337.5 858.2 L1541 906.7 C1554 910 1561 920 1561.7 937 L1563 1140 C1563 1170 1535 1200 1492.7 1213.8" style="stroke-width:6.5"/>
<path class="k" d="M1336.5 857 C1370 838 1400 834 1420 835 C1455 838 1480 860 1492.7 892" style="stroke-width:6"/>
<path class="g" d="M1532.7 918.6 C1542 922 1547 930 1547 940 L1552 1140 C1550 1165 1530 1185 1500 1200" style="stroke:#888;stroke-width:3"/>
<path class="g" d="M1549 945 L1560 942" style="stroke:#aaa;stroke-width:2.5"/>
<path class="g" d="M1549 958 L1560 955" style="stroke:#aaa;stroke-width:2.5"/>
<path class="g" d="M1549 971 L1560 968" style="stroke:#aaa;stroke-width:2.5"/>
<path class="g" d="M1549 984 L1560 981" style="stroke:#aaa;stroke-width:2.5"/>
<path class="g" d="M1549 997 L1560 994" style="stroke:#aaa;stroke-width:2.5"/>
<path class="g" d="M1549 1010 L1560 1007" style="stroke:#aaa;stroke-width:2.5"/>
<path class="g" d="M1549 1023 L1560 1020" style="stroke:#aaa;stroke-width:2.5"/>
<path class="g" d="M1549 1036 L1560 1033" style="stroke:#aaa;stroke-width:2.5"/>
<path class="g" d="M1549 1049 L1560 1046" style="stroke:#aaa;stroke-width:2.5"/>
<path class="g" d="M1549 1062 L1560 1059" style="stroke:#aaa;stroke-width:2.5"/>
<path class="g" d="M1549 1075 L1560 1072" style="stroke:#aaa;stroke-width:2.5"/>
<path class="g" d="M1549 1088 L1560 1085" style="stroke:#aaa;stroke-width:2.5"/>
<path class="g" d="M1549 1101 L1560 1098" style="stroke:#aaa;stroke-width:2.5"/>
<path class="g" d="M1549 1114 L1560 1111" style="stroke:#aaa;stroke-width:2.5"/>
<path class="g" d="M1549 1127 L1560 1124" style="stroke:#aaa;stroke-width:2.5"/>
<path class="k" d="M1484 955 L1491.5 1140 L1492.7 1228 L1365.6 1303.4" style="stroke-width:6.5"/>
<path class="k" d="M1365.6 1303.4 L1345 1300 L1326 1291 L1329.3 1310.7" style="stroke-width:5"/>
<path class="g" d="M1348.6 1052 L1350 1298" style="stroke:#9a9a9a;stroke-width:3"/>
<path class="g" d="M1361 1058 L1364 1300" style="stroke:#9a9a9a;stroke-width:3"/>
<path class="k" d="M1466 944 L1486.7 956" style="stroke-width:11"/>
<path class="g" d="M1488 947 L1528 916" style="stroke:#c0c0c0;stroke-width:9"/>
<path class="g" d="M1486 941 L1526 910" style="stroke:#8a8a8a;stroke-width:2"/>
<path class="g" d="M1352 1025 L1466 950" style="stroke:#c8c8c8;stroke-width:7"/>
<g transform="translate(1513.3 959.8) rotate(-15)"><ellipse class="f" rx="15" ry="12.5"/><ellipse class="w" cx="-1" cy="-4" rx="11.5" ry="6.5"/></g>
<g transform="translate(1514.5 1117) rotate(-15)"><ellipse class="f" rx="17" ry="14.5"/><ellipse class="w" cx="-1" cy="-4" rx="13.5" ry="8.5"/></g>
<ellipse class="k" cx="1449" cy="1009.4" rx="10" ry="14" transform="rotate(25 1449 1009.4)" style="stroke-width:4.5"/>
<ellipse class="k" cx="1382.5" cy="1050.6" rx="8" ry="9" style="stroke-width:5"/>
<g transform="translate(1445.5 1068.8) rotate(25)"><ellipse class="k" rx="15" ry="21" style="stroke-width:5"/><ellipse class="k" rx="20" ry="26" style="stroke-width:3;stroke:#999"/><path class="k" style="stroke-width:4" d="M-4 6 C-8 -2 0 -10 6 -4"/><ellipse rx="4" ry="6" fill="#777"/></g>
<g transform="translate(1394.6 1105) rotate(25)"><ellipse class="k" rx="16" ry="22" style="stroke-width:5"/><ellipse class="k" rx="21" ry="27" style="stroke-width:3;stroke:#999"/><path class="k" style="stroke-width:4" d="M-4 6 C-8 -2 0 -10 6 -4"/><ellipse rx="4" ry="6" fill="#777"/></g>
<g transform="translate(1394.6 1170) rotate(25)"><ellipse class="k" rx="17" ry="22" style="stroke-width:5"/><ellipse class="k" rx="22" ry="27" style="stroke-width:3;stroke:#999"/><path class="k" style="stroke-width:4" d="M-4 6 C-8 -2 0 -10 6 -4"/><ellipse rx="4" ry="6" fill="#777"/></g>
<g transform="translate(1450 1144.8) rotate(25)"><ellipse class="k" rx="18" ry="23" style="stroke-width:5"/><ellipse class="k" rx="23" ry="28" style="stroke-width:3;stroke:#999"/><path class="k" style="stroke-width:4" d="M-4 6 C-8 -2 0 -10 6 -4"/><ellipse rx="4" ry="6" fill="#777"/></g>
<ellipse class="k" cx="1458.8" cy="1212.6" rx="10" ry="12" transform="rotate(20 1458.8 1212.6)" style="stroke-width:5"/>
<ellipse class="k" cx="1391" cy="1249" rx="10" ry="12" transform="rotate(20 1391 1249)" style="stroke-width:5"/>
<path class="k" d="M1320 1022 C1330 1018 1340 1030 1352 1038 L1356 1050 L1345 1046 C1338 1040 1330 1040 1326 1046 L1340 1062 L1340 1078" style="stroke-width:5"/>
<path class="k" d="M1302.6 1107.5 L1343.8 1114.8" style="stroke-width:4.5"/>
<path class="k" d="M1230 1054 L1320 1049" style="stroke-width:3.5;stroke-dasharray:10 5"/>
<path class="k" d="M1351 1240 L1339 1235.6 L1339 1282" style="stroke-width:4.5"/>
<path class="f" d="M1266 1080 L1286 1078 L1284 1180 L1281.5 1266 L1280 1327 L1276 1327 L1273.7 1266 L1269 1180 Z"/>
<path class="k" d="M1272 1100 L1282 1092" style="stroke:#bbb;stroke-width:2.5"/>
<path class="k" d="M1272 1125 L1282 1117" style="stroke:#bbb;stroke-width:2.5"/>
<path class="k" d="M1272 1150 L1282 1142" style="stroke:#bbb;stroke-width:2.5"/>
<path class="g" d="M1230.5 1356 L1231 1470" style="stroke:#555;stroke-width:3;stroke-dasharray:40 10 6 10"/>

<path class="g" d="M979.3 1997.5 L1109 1912.3" style="stroke:#8a8a8a;stroke-width:3"/>
<path class="g" d="M1035.3 2030.5 L1172.6 1946.6" style="stroke:#8a8a8a;stroke-width:3"/>
<path class="g" d="M1098.8 2068.7 L1238.7 1988.6" style="stroke:#aaa;stroke-width:3"/>
<path class="k" d="M1062 1872.9 L1246.3 1981" style="stroke-width:9"/>
<path class="k" d="M1062 1872.9 L919.6 1969.5" style="stroke-width:6"/>
<path class="k" d="M919.6 1969.5 L1098.8 2068.7" style="stroke-width:6"/>
<path class="k" d="M1246.3 1981 L1246.3 2150" style="stroke-width:6"/>
<path class="k" d="M919.6 1969.5 L919.6 2147.5" style="stroke-width:7"/>
<path class="k" d="M919.6 2147.5 L1097.4 2247.6" style="stroke-width:9"/>
<path class="k" d="M1246.3 2150 L1172.6 2198.3" style="stroke-width:6"/>
<path class="g" d="M1098.8 2068.7 L1093.7 2246" style="stroke:#888;stroke-width:3"/>
<path class="g" d="M1106 2066 L1101 2240" style="stroke:#b0b0b0;stroke-width:3"/>
<path class="g" d="M972 2006.8 L973 2169.3" style="stroke:#bbb;stroke-width:3"/>
<path class="g" d="M1030 2038.8 L1031 2201.9" style="stroke:#bbb;stroke-width:3"/>
<path class="k" d="M929.7 1995 L961.5 2012.7 L962.8 2150 L931 2131 Z" style="stroke-width:7"/>
<path class="k" d="M932.3 2076.3 L959 2091.5" style="stroke-width:5"/>
<path class="k" d="M985.7 2028 L1017.5 2044.5 L1018.7 2178 L988.2 2160.2 Z" style="stroke-width:7"/>
<path class="k" d="M1041.6 2057.2 L1077.2 2076.3 L1079.8 2211 L1044.2 2192 Z" style="stroke-width:7"/>
<path class="k" d="M1058 2106.8 L1078.5 2117" style="stroke-width:5"/>
<path class="k" d="M1045.4 2146.2 L1078.5 2164" style="stroke-width:5"/>
<path class="k" d="M919.6 1951.7 L900.5 1933.9 L894.2 1944 L895.4 1972 L918.3 2017.8" style="stroke-width:5.5"/>
<path class="k" d="M900.5 1933.9 L930 1950" style="stroke-width:5"/>
<path class="k" d="M906 1948 L921 1958" style="stroke-width:4"/>
<path class="k" d="M918.3 2061 L898 2071.2 L891.6 2104.3 L919.6 2119.5" style="stroke-width:5.5"/>
<ellipse class="k" cx="910" cy="2091" rx="4" ry="8" transform="rotate(-25 910 2091)" style="stroke-width:4"/>
<path class="k" d="M1115.4 2073.7 L1111.5 2066 L1129.3 2058.5 L1173.8 2084 L1173.8 2124.6 L1159.8 2132.2 L1120.4 2137.3 L1115.4 2073.7" style="stroke-width:5.5"/>
<path class="k" d="M1122 2066 L1166 2091" style="stroke-width:4"/>
<ellipse class="f" cx="1137" cy="2105.5" rx="8" ry="13" transform="rotate(-25 1137 2105.5)"/>
<path class="k" d="M1097.4 2247.6 L1113 2235 L1163.5 2260 L1174.5 2250.7 L1173 2213 L1125.7 2169 L1116 2178 L1118 2232" style="stroke-width:5.5"/>
<path class="k" d="M1128 2180 L1168 2218" style="stroke-width:4"/>
<ellipse class="k" cx="1139.8" cy="2225.5" rx="6" ry="10" transform="rotate(-25 1139.8 2225.5)" style="stroke-width:5"/>
<ellipse class="k" cx="1213.2" cy="2035.6" rx="12" ry="10" transform="rotate(20 1213.2 2035.6)" style="stroke-width:5"/>
<ellipse class="k" cx="1217" cy="2139.9" rx="13" ry="16" transform="rotate(30 1217 2139.9)" style="stroke-width:4;stroke:#444"/>
<path class="f" d="M985 2188 L1010 2200 L1008 2208 L988 2202 Z"/>

<path class="f" d="M1563 936 L1634 884 L1653 897 L1566 941 Z"/>
<g transform="translate(1676.5 868) rotate(-32)"><ellipse class="k" rx="19" ry="28" style="stroke-width:7"/><path class="f" d="M-19 0 A19 28 0 0 0 8 26 L2 12 L-8 10 Z"/></g>
<path class="k" d="M1690 845 L1722 830" style="stroke-width:4"/>
<path class="k" d="M1697 872 L1726 851" style="stroke-width:4"/>
<path class="k" d="M1722 836 L1764 816" style="stroke-width:21"/>
<ellipse class="w" cx="1727" cy="834" rx="3" ry="7" transform="rotate(-25 1727 834)"/>
<ellipse class="w" cx="1735.5" cy="830" rx="3" ry="7" transform="rotate(-25 1735.5 830)"/>
<ellipse class="w" cx="1744" cy="826" rx="3" ry="7" transform="rotate(-25 1744 826)"/>
<ellipse class="w" cx="1752.5" cy="822" rx="3" ry="7" transform="rotate(-25 1752.5 822)"/>
<ellipse class="w" cx="1761" cy="818" rx="3" ry="7" transform="rotate(-25 1761 818)"/>
<g transform="translate(1797.6 795.3) rotate(-28)"><ellipse class="k" rx="19" ry="25" style="stroke-width:6"/><path class="k" style="stroke-width:4.5" d="M-6 -8 C4 -10 6 2 2 12"/></g>
<g transform="translate(1850.6 768) rotate(-25)"><ellipse class="k" rx="25" ry="28" style="stroke-width:9"/><path class="k" style="stroke-width:4.5" d="M-10 -12 C-2 -2 -4 8 -8 14 M-2 -2 L18 -10 M6 -24 L8 -6"/><path class="f" d="M14 8 L24 4 L18 22 L8 26 Z"/></g>
<path class="g" d="M1883.8 739.3 L1950.4 704.5" style="stroke:#999;stroke-width:3;stroke-dasharray:9 6"/>
<g transform="translate(908.5 1485.4) rotate(-30)"><ellipse class="k" rx="18" ry="25" style="stroke-width:6.5"/><path class="f" d="M0 -25 A18 25 0 0 0 0 25 L-2 10 L-8 -6 Z"/></g>
<path class="k" d="M920 1464 L944 1451" style="stroke-width:4"/>
<path class="k" d="M927 1490 L950 1470" style="stroke-width:5"/>
<path class="k" d="M944 1459 L984 1442" style="stroke-width:21"/>
<ellipse class="w" cx="950" cy="1456" rx="3" ry="7" transform="rotate(-25 950 1456)"/>
<ellipse class="w" cx="958.5" cy="1452.4" rx="3" ry="7" transform="rotate(-25 958.5 1452.4)"/>
<ellipse class="w" cx="967" cy="1448.8" rx="3" ry="7" transform="rotate(-25 967 1448.8)"/>
<ellipse class="w" cx="975.5" cy="1445.2" rx="3" ry="7" transform="rotate(-25 975.5 1445.2)"/>
<path class="g" d="M785.7 1559.4 L888 1499.6" style="stroke:#8a8a8a;stroke-width:3;stroke-dasharray:7 4"/>
<path class="g" d="M988 1437 L1003 1428" style="stroke:#aaa;stroke-width:3;stroke-dasharray:5 4"/>
<g transform="translate(1023.4 1416.2) rotate(-28)"><ellipse class="k" rx="23" ry="27" style="stroke-width:7"/><path class="k" style="stroke-width:5" d="M-6 -10 C6 -14 12 0 4 12"/><path class="k" style="stroke-width:4" d="M10 -22 A23 27 0 0 1 22 8"/></g>
<path class="g" d="M1046 1402 L1059 1394" style="stroke:#aaa;stroke-width:3;stroke-dasharray:5 4"/>
<g transform="translate(1228 1528)"><ellipse class="k" rx="27" ry="17" style="stroke-width:6"/><path class="k" style="stroke-width:6" d="M-27 2 L-27 12 A27 17 0 0 0 27 12 L27 2"/><path class="k" style="stroke-width:4" d="M-8 -2 C-2 -10 10 -6 8 2"/></g>
<g transform="translate(1228 1596)"><ellipse class="k" rx="27" ry="17" style="stroke-width:6"/><path class="k" style="stroke-width:7" d="M-27 2 L-27 20 A27 17 0 0 0 27 20 L27 2"/><path class="k" style="stroke-width:4" d="M-8 -2 C-2 -10 10 -6 8 2"/><path class="k" style="stroke-width:4" d="M-27 12 A27 15 0 0 0 27 12"/></g>
<path class="g" d="M1231 1475 L1231 1506" style="stroke:#555;stroke-width:3"/>
<path class="g" d="M1231 1555 L1231 1575" style="stroke:#777;stroke-width:3;stroke-dasharray:6 4"/>
<path class="k" d="M1231 1638 L1231 1700" style="stroke-width:3.5;stroke:#333"/>
<g transform="translate(847 2296.4) rotate(-30)"><ellipse class="k" rx="22" ry="27" style="stroke-width:6.5"/><path class="k" style="stroke-width:4" d="M-12 -16 L10 18 M-16 4 L14 -6"/></g>
<path class="k" d="M862 2275 L900 2250" style="stroke-width:4"/>
<path class="k" d="M870 2300 L908 2272" style="stroke-width:4.5"/>
<path class="k" d="M900 2262 L946 2238" style="stroke-width:20"/>
<path class="k" d="M914 2246 L918 2260" style="stroke:#8a8a8a;stroke-width:2"/>
<path class="k" d="M921 2242.4 L925 2256.4" style="stroke:#8a8a8a;stroke-width:2"/>
<path class="k" d="M928 2238.8 L932 2252.8" style="stroke:#8a8a8a;stroke-width:2"/>
<path class="k" d="M935 2235.2 L939 2249.2" style="stroke:#8a8a8a;stroke-width:2"/>
<path class="k" d="M901 2253 L907 2268" style="stroke:#e9e9e9;stroke-width:3"/>
<path class="g" d="M782.6 2331 L825 2305.8" style="stroke:#666;stroke-width:4"/>
<path class="g" d="M949.4 2228.7 L990.3 2203.5" style="stroke:#666;stroke-width:3.5"/>
<path class="k" d="M862.9 2356 L873.9 2375" style="stroke-width:3"/>
<path class="g" d="M740 2345 L760 2338" style="stroke:#777;stroke-width:3;stroke-dasharray:4 12"/>

<path class="k" d="M167 1113 L311 1112" style="stroke-width:4"/>
<path class="k" d="M123 1245 L288 1240" style="stroke-width:4"/>
<path class="k" d="M119 1375 L384.7 1369" style="stroke-width:4"/>
<path class="k" d="M144 1482 L543 1483.5" style="stroke-width:4"/>
<path class="k" d="M578 1012.6 L774 1012.6" style="stroke-width:4"/>
<path class="k" d="M194 2018 L331 2013" style="stroke-width:4"/>
<path class="k" d="M150 2158 L517.6 2158.5" style="stroke-width:4"/>
<path class="k" d="M139 2711.6 L289.6 2707" style="stroke-width:4"/>
<path class="k" d="M830 2034 L946 2033" style="stroke-width:4.8"/>
<path class="k" d="M1212 2030 L1331 2102" style="stroke-width:4.8"/>
<path class="k" d="M1058 2106.8 L1256.5 2226.3" style="stroke-width:4.8"/>
<path class="k" d="M997 2127 L1116 2348" style="stroke-width:4.8"/>
<path class="k" d="M883.3 2313.7 L980.9 2370.3" style="stroke-width:4.8"/>
<path class="k" d="M1071 742 L1073.6 860" style="stroke-width:4"/>
<path class="k" d="M1641.7 790.8 L1776.4 789.3" style="stroke-width:4"/>
<path class="k" d="M1877.8 769 L1959.5 769" style="stroke-width:4"/>
<path class="k" d="M1735.5 849.8 L1874.8 849.8" style="stroke-width:4"/>
<path class="k" d="M1390 1043 L1738 1026" style="stroke-width:4"/>
<path class="k" d="M1464.6 1089.2 L1723.7 1078" style="stroke-width:4"/>
<path class="k" d="M1564 1142.5 L1677.7 1140" style="stroke-width:4"/>
<path class="k" d="M1467 1146 L1542 1160.5" style="stroke-width:3.5"/>
<path class="k" d="M1493.7 1210.3 L1619.6 1206.4" style="stroke-width:4"/>
<path class="k" d="M1082 1172 L1409 1345" style="stroke-width:4.8"/>
<path class="k" d="M1080 1227.7 L1351 1373.6" style="stroke-width:4.8"/>
<path class="k" d="M1080 1291.5 L1351 1374.8" style="stroke-width:4.8"/>
<path class="k" d="M868 1232 L1300 1470" style="stroke-width:4.8"/>
<path class="k" d="M852.6 1078 L965.2 1109" style="stroke-width:4.8"/>
<path class="k" d="M852.6 1078 L948.8 1165.3" style="stroke-width:4.8"/>
<path class="k" d="M1256 1532.7 L1345 1530" style="stroke-width:4"/>
<path class="k" d="M1256 1602 L1422 1598" style="stroke-width:4"/>
<path class="k" d="M918 1498 L981 1532.7" style="stroke-width:4.8"/>
<path class="k" d="M1018.7 1414.6 L1091 1466.6" style="stroke-width:4.8"/>
<path class="g" d="M1325.4 734.7 L1257.6 894.6" style="stroke:#8a8a8a;stroke-width:4;stroke-dasharray:30 4 12 3"/>
<path class="g" d="M852.6 1077 L918 1056.3" style="stroke:#999;stroke-width:2.5;stroke-dasharray:8 5"/>
<path class="f" d="M779 1236 L784 1240 L764 1281 L755 1277 Z"/>
<path class="k" d="M760 1278 L747 1270.7" style="stroke-width:5"/>
<path class="k" d="M766 1279 C764 1300 770 1318 780 1334 C785 1343 784 1350 783.4 1358" style="stroke-width:5.5"/>
<path class="k" d="M783.4 1357.8 L620 1359.6" style="stroke-width:4"/>
<path class="f" d="M741.6 1360.5 L784 1356 L775 1371 Z"/>
<path class="k" d="M712.5 1238 C717.4 1240.7 735.9 1248.8 741.6 1254.3 C747.4 1259.8 745.8 1263.4 747 1270.7 C748.2 1278 750.3 1289.8 748.8 1298 C747.3 1306.2 743.7 1314.3 738 1319.7 C732.3 1325.1 718.3 1328.8 714.4 1330.6" style="stroke-width:7"/>
<path class="g" d="M714.4 1276 L734.3 1263.4" style="stroke:#888;stroke-width:3"/>
<path class="k" d="M716 1379.6 C718.5 1378.1 726.1 1370.8 730.7 1370.5 C735.3 1370.2 740.4 1373.5 743.4 1377.8 C746.4 1382 747.9 1393 748.8 1396" style="stroke-width:6"/>
<path class="k" d="M741.6 1361 C747 1362.6 768.2 1365.9 774.3 1370.5 C780.4 1375.1 779.5 1383 778 1388.7 C776.5 1394.5 771.1 1400.5 765 1405 C758.9 1409.5 750 1412.7 741.6 1416 C733.2 1419.3 718.9 1423.5 714.4 1425" style="stroke-width:6"/>
<path class="k" d="M748.8 1396 L765 1405" style="stroke-width:7"/>
<text class="lb" x="76" y="1123" textLength="57.5" lengthAdjust="spacingAndGlyphs" font-size="49">100</text>
<text class="lb" x="55" y="1265" textLength="38" lengthAdjust="spacingAndGlyphs" font-size="49">30</text>
<text class="lb" x="53" y="1388" textLength="40" lengthAdjust="spacingAndGlyphs" font-size="49">70</text>
<text class="lb" x="68" y="1496" textLength="40" lengthAdjust="spacingAndGlyphs" font-size="49">80</text>
<text class="lb" x="787" y="1032" textLength="39" lengthAdjust="spacingAndGlyphs" font-size="49">90</text>
<text class="lb" x="776" y="1110" textLength="60" lengthAdjust="spacingAndGlyphs" font-size="49">330</text>
<text class="lb" x="777" y="1237" textLength="62" lengthAdjust="spacingAndGlyphs" font-size="49">350</text>
<text class="lb" x="799" y="1380" textLength="57" lengthAdjust="spacingAndGlyphs" font-size="49">130</text>
<text class="lb" x="97" y="2028" textLength="72.5" lengthAdjust="spacingAndGlyphs" font-size="49">140</text>
<text class="lb" x="63" y="2163" textLength="55.6" lengthAdjust="spacingAndGlyphs" font-size="49">150</text>
<text class="lb" x="84" y="2727" textLength="47" lengthAdjust="spacingAndGlyphs" font-size="49">60</text>
<text class="lb" x="741" y="2051" textLength="67" lengthAdjust="spacingAndGlyphs" font-size="49">220</text>
<text class="lb" x="1348" y="2063" textLength="68" lengthAdjust="spacingAndGlyphs" font-size="49">180</text>
<text class="lb" x="1350" y="2111" textLength="66" lengthAdjust="spacingAndGlyphs" font-size="49">170</text>
<text class="lb" x="1355" y="2162" textLength="63" lengthAdjust="spacingAndGlyphs" font-size="49">160</text>
<text class="lb" x="1268" y="2247" textLength="65.5" lengthAdjust="spacingAndGlyphs" font-size="49">200</text>
<text class="lb" x="1096" y="2395" textLength="63" lengthAdjust="spacingAndGlyphs" font-size="49">210</text>
<text class="lb" x="999" y="2397" textLength="44" lengthAdjust="spacingAndGlyphs" font-size="49">50</text>
<text class="lb" x="1042" y="730" textLength="63" lengthAdjust="spacingAndGlyphs" font-size="49">270</text>
<text class="lb" x="1291.5" y="723" textLength="60.5" lengthAdjust="spacingAndGlyphs" font-size="49">320</text>
<text class="lb" x="1585" y="789" textLength="43" lengthAdjust="spacingAndGlyphs" font-size="49">20</text>
<text class="lb" x="1975" y="779" textLength="46" lengthAdjust="spacingAndGlyphs" font-size="49">4.0</text>
<text class="lb" x="1895" y="866" textLength="39" lengthAdjust="spacingAndGlyphs" font-size="49">10</text>
<text class="lb" x="1750" y="1048" textLength="68" lengthAdjust="spacingAndGlyphs" font-size="49">280</text>
<text class="lb" x="1750" y="1111" textLength="73" lengthAdjust="spacingAndGlyphs" font-size="49">380</text>
<text class="lb" x="1753" y="1167" textLength="72" lengthAdjust="spacingAndGlyphs" font-size="49">390</text>
<text class="lb" x="1634" y="1242" textLength="68" lengthAdjust="spacingAndGlyphs" font-size="49">310</text>
<text class="lb" x="1421" y="1375" textLength="68" lengthAdjust="spacingAndGlyphs" font-size="49">340</text>
<text class="lb" x="1358" y="1414" textLength="67.5" lengthAdjust="spacingAndGlyphs" font-size="49">360</text>
<text class="lb" x="1103.5" y="1496" textLength="43.5" lengthAdjust="spacingAndGlyphs" font-size="49">20</text>
<text class="lb" x="994" y="1554" textLength="32" lengthAdjust="spacingAndGlyphs" font-size="49">10</text>
<text class="lb" x="1353" y="1542" textLength="67.7" lengthAdjust="spacingAndGlyphs" font-size="49">290</text>
<text class="lb" x="1430" y="1603" textLength="73" lengthAdjust="spacingAndGlyphs" font-size="49">300</text>
<text x="718" y="3124" textLength="578" lengthAdjust="spacingAndGlyphs" font-family="Liberation Sans, sans-serif" font-size="59" fill="#2a2a2a" stroke="#2a2a2a" stroke-width="1.9" style="white-space:pre">FIG. 19  TABLOU 28 T</text>

<path class="g" d="M1511 51 C1502.5 72.7 1475.2 141.2 1460 181 C1444.8 220.8 1432.7 261 1420 290 C1407.3 319 1390 344.2 1384 355" style="stroke:#7a7a7a;stroke-width:3;stroke-dasharray:14 3 5 3"/>
<path class="g" d="M1561 51 C1555.3 70.3 1538.2 128.7 1527 167 C1515.8 205.3 1503.8 246.2 1493.8 280.7 C1483.8 315.2 1471.5 358.4 1467 374" style="stroke:#7a7a7a;stroke-width:3;stroke-dasharray:12 3 4 3"/>
<path class="g" d="M1551 51 C1545.2 70.3 1527.3 128.7 1516 167 C1504.7 205.3 1495.7 245.2 1483 280.7 C1470.3 316.2 1457.2 353.4 1440 380 C1422.8 406.6 1390 430 1380 440" style="stroke:#a8a8a8;stroke-width:2.2"/>
<path class="g" d="M1493.8 280.7 C1484.8 291.4 1459 324.9 1440 345 C1421 365.1 1390 391.7 1380 401" style="stroke:#a8a8a8;stroke-width:2.2"/>
<path class="g" d="M1500.5 401 L1380 461" style="stroke:#a8a8a8;stroke-width:2.2"/>
<path class="g" d="M1505 410 L1382 472" style="stroke:#a8a8a8;stroke-width:2.2"/>
<path class="g" d="M1507 467.8 L1380 521" style="stroke:#a8a8a8;stroke-width:2.2"/>
<path class="g" d="M1493 278 C1495.5 279.7 1501.8 287 1508 288 C1514.2 289 1523.3 288.3 1530 284 C1536.7 279.7 1538 270 1548 262 C1558 254 1583 240.3 1590 236" style="stroke:#6a6a6a;stroke-width:2.4"/>
<path class="g" d="M1486 300 C1486.7 306.7 1487.7 329.2 1490 340 C1492.3 350.8 1498.3 360.8 1500 365" style="stroke:#3a3a3a;stroke-width:2.8"/>
<path class="g" d="M2081 61.8 C2087.1 78.2 2106.7 123.5 2117.3 160 C2127.9 196.5 2136.9 247.2 2144.5 281 C2152.1 314.8 2156.9 343.2 2162.7 363 C2168.4 382.8 2168.6 387.2 2179 400 C2189.4 412.8 2209.3 426.4 2225 440 C2240.7 453.6 2265 474.5 2273 481.4" style="stroke:#3a3a3a;stroke-width:2.8"/>
<path class="g" d="M2097.6 63.3 C2103.4 79.4 2122.1 123.7 2132.4 160 C2142.7 196.3 2152.5 250.2 2159.6 281 C2166.7 311.8 2167.7 328.3 2174.8 344.8 C2181.9 361.3 2185.9 365.8 2202 380 C2218.1 394.2 2260 421.7 2271.6 430" style="stroke:#4a4a4a;stroke-width:2.2;stroke-dasharray:18 3"/>
<path class="g" d="M2134 64.8 C2138.8 79.2 2152.9 119 2162.7 151 C2172.5 183 2182.9 225.7 2193 257 C2203.1 288.3 2210.2 318 2223 338.7 C2235.8 359.4 2262.2 373.9 2270 381" style="stroke:#3a3a3a;stroke-width:2.8"/>
<path class="g" d="M2053.7 235.8 C2061.8 242.8 2086.9 268.4 2102 278 C2117.1 287.6 2137.4 290.8 2144.5 293.3" style="stroke:#3a3a3a;stroke-width:2.8"/>
<path class="g" d="M2102 278 C2112 295 2117 305 2117.3 317.5 L2117 392 L2171.7 449.6 L2273 545" style="stroke:#3a3a3a;stroke-width:2.8"/>
<path class="g" d="M2117.3 347.8 L2179 400" style="stroke:#3a3a3a;stroke-width:2.8"/>
<path class="g" d="M1594 194 L2041.6 196.5 C2048 198 2051 203 2052 235.8" style="stroke:#3a3a3a;stroke-width:2.8"/>
<path class="g" d="M1590 230.6 L2046 228" style="stroke:#3a3a3a;stroke-width:2.8"/>
<path class="g" d="M1594 194 C1588 198 1587 210 1590 230.6" style="stroke:#3a3a3a;stroke-width:2.8"/>
<ellipse class="g" cx="1623" cy="212" rx="7" ry="9" style="stroke:#333;stroke-width:3.6;fill:none"/>
<path d="M1623 212 l8 -10 l6 12 l-7 12 z" fill="#333"/>
<ellipse class="g" cx="1657" cy="212" rx="7" ry="9" style="stroke:#333;stroke-width:3.6;fill:none"/>
<path d="M1657 212 l8 -10 l6 12 l-7 12 z" fill="#333"/>
<ellipse class="g" cx="1692" cy="212" rx="7" ry="9" style="stroke:#333;stroke-width:3.6;fill:none"/>
<path d="M1692 212 l8 -10 l6 12 l-7 12 z" fill="#333"/>
<ellipse class="g" cx="1727" cy="212" rx="7" ry="9" style="stroke:#333;stroke-width:3.6;fill:none"/>
<path d="M1727 212 l8 -10 l6 12 l-7 12 z" fill="#333"/>
<ellipse class="g" cx="1760" cy="212" rx="7" ry="9" style="stroke:#333;stroke-width:3.6;fill:none"/>
<path d="M1760 212 l8 -10 l6 12 l-7 12 z" fill="#333"/>
<ellipse class="g" cx="1790" cy="212" rx="7" ry="9" style="stroke:#333;stroke-width:3.6;fill:none"/>
<path d="M1790 212 l8 -10 l6 12 l-7 12 z" fill="#333"/>
<ellipse class="g" cx="1826" cy="212" rx="7" ry="9" style="stroke:#333;stroke-width:3.6;fill:none"/>
<path d="M1826 212 l8 -10 l6 12 l-7 12 z" fill="#333"/>
<ellipse class="g" cx="1905" cy="212" rx="7" ry="9" style="stroke:#333;stroke-width:3.6;fill:none"/>
<path d="M1905 212 l8 -10 l6 12 l-7 12 z" fill="#333"/>
<ellipse class="g" cx="1940" cy="212" rx="7" ry="9" style="stroke:#333;stroke-width:3.6;fill:none"/>
<path d="M1940 212 l8 -10 l6 12 l-7 12 z" fill="#333"/>
<ellipse class="g" cx="1975" cy="212" rx="7" ry="9" style="stroke:#333;stroke-width:3.6;fill:none"/>
<path d="M1975 212 l8 -10 l6 12 l-7 12 z" fill="#333"/>
<ellipse class="g" cx="2005" cy="212" rx="7" ry="9" style="stroke:#333;stroke-width:3.6;fill:none"/>
<path d="M2005 212 l8 -10 l6 12 l-7 12 z" fill="#333"/>
<ellipse class="g" cx="2030" cy="212" rx="7" ry="9" style="stroke:#333;stroke-width:3.6;fill:none"/>
<path d="M2030 212 l8 -10 l6 12 l-7 12 z" fill="#333"/>
<path class="g" d="M1520.5 250 L1521.5 575" style="stroke:#a8a8a8;stroke-width:2.2"/>
<path class="g" d="M1610.7 234 L1611.7 575" style="stroke:#6a6a6a;stroke-width:2.4"/>
<path class="g" d="M1697.6 234 L1698.6 575" style="stroke:#a8a8a8;stroke-width:2.2"/>
<path class="g" d="M1701 234 L1702 578" style="stroke:#6a6a6a;stroke-width:2.4"/>
<path class="g" d="M1904.8 234 L1905.8 578" style="stroke:#6a6a6a;stroke-width:2.4"/>
<path class="g" d="M1908 234 L1909 578" style="stroke:#a8a8a8;stroke-width:2.2"/>
<path class="g" d="M2034 234 L2035 578" style="stroke:#3a3a3a;stroke-width:2.8"/>
<path class="g" d="M1511.3 582.8 L2040 579" style="stroke:#333;stroke-width:3.6"/>
<path class="g" d="M1520 574 L1700 573" style="stroke:#a8a8a8;stroke-width:2.2"/>
<path d="M2033 236 L2046 236 L2047.4 248.2 L2046.9 261.8 L2041.2 275.2 L2048.5 285.5 L2048.2 297 L2044.8 304.8 L2045.4 313.6 L2041.1 324.6 L2043.2 333.1 L2047.1 346.5 L2047.4 354.6 L2045.9 362.6 L2041 370.5 L2042.7 383.6 L2048.9 392.1 L2043.3 405.2 L2045.3 418.9 L2042.6 430.7 L2046.5 444.3 L2048.1 458 L2043.9 467.1 L2042.2 475.3 L2043.4 482.7 L2041 494 L2043.7 505.7 L2047.5 514.9 L2043.5 525.2 L2046.6 535.6 L2048.8 543 L2047 550.2 L2041.1 563.1 L2043.9 575.6 L2046 579 L2033 579 Z" fill="#3a3a3a"/>
<path class="g" d="M2036 458.7 L2078 458.7" style="stroke:#3a3a3a;stroke-width:7"/>
<path class="g" d="M2042 499.5 L2078 499.5" style="stroke:#444;stroke-width:4"/>
<path class="g" d="M2042 437 L2070 437" style="stroke:#666;stroke-width:3"/>
<path d="M2034 560 L2050 566 L2111 586 L2111 592 L2034 583 Z" fill="#3a3a3a"/>
<path class="g" d="M2050 236 L2112 300" style="stroke:#3a3a3a;stroke-width:2.8"/>
<path class="g" d="M2114 300 L2114 616" style="stroke:#4a4a4a;stroke-width:3;stroke-dasharray:14 4 6 3"/>
<circle cx="1636.7" cy="268" r="21.8" fill="none" stroke="#8a8a8a" stroke-width="2.2"/>
<path d="M1658.4 270 A21.8 21.8 0 0 1 1625 286.4" fill="none" stroke="#2a2a2a" stroke-width="5" stroke-linecap="round"/>
<path d="M1622.1 251.8 A21.8 21.8 0 0 1 1640.4 246.5" fill="none" stroke="#333" stroke-width="4.1" stroke-linecap="round"/>
<path d="M1654.9 256 A21.8 21.8 0 0 1 1654.6 280.4" fill="none" stroke="#3a3a3a" stroke-width="3.3" stroke-linecap="round"/>
<path class="g" d="M1630.5 276 L1634.4 270.5" style="stroke:#4a4a4a;stroke-width:3.4"/>
<path class="g" d="M1640.9 254.1 L1634.5 260.4" style="stroke:#4a4a4a;stroke-width:2.3"/>
<path class="g" d="M1630.6 277.5 L1636.5 275.2" style="stroke:#4a4a4a;stroke-width:3.7"/>
<path class="g" d="M1629.6 265.9 L1627.1 261.4" style="stroke:#4a4a4a;stroke-width:2.3"/>
<path class="g" d="M1644 277.9 L1650.9 273.1" style="stroke:#4a4a4a;stroke-width:2.3"/>
<path class="g" d="M1646.9 267.1 L1645.6 263.5" style="stroke:#4a4a4a;stroke-width:3.2"/>
<path class="g" d="M1641 259.8 L1639.9 253.6" style="stroke:#4a4a4a;stroke-width:3.7"/>
<path class="g" d="M1646.2 270 L1651 264.8" style="stroke:#4a4a4a;stroke-width:3.4"/>
<path class="g" d="M1647.6 264.4 L1651.7 258.9" style="stroke:#4a4a4a;stroke-width:2.9"/>
<circle cx="1649.8" cy="346.5" r="30.5" fill="none" stroke="#8a8a8a" stroke-width="2.2"/>
<path d="M1679.8 351.9 A30.5 30.5 0 0 1 1620.1 353.6" fill="none" stroke="#2a2a2a" stroke-width="5.2" stroke-linecap="round"/>
<path d="M1622.2 333.4 A30.5 30.5 0 0 1 1657.9 317.1" fill="none" stroke="#333" stroke-width="4.2" stroke-linecap="round"/>
<path d="M1675.9 330.7 A30.5 30.5 0 0 1 1678 358.1" fill="none" stroke="#3a3a3a" stroke-width="3.5" stroke-linecap="round"/>
<path class="g" d="M1648.1 333.3 L1645.2 331.9" style="stroke:#4a4a4a;stroke-width:2.4"/>
<path class="g" d="M1633.6 362.3 L1640 364.1" style="stroke:#4a4a4a;stroke-width:3"/>
<path class="g" d="M1646.5 351.8 L1643.3 355.7" style="stroke:#4a4a4a;stroke-width:3.6"/>
<path class="g" d="M1637.6 361 L1641.4 363.7" style="stroke:#4a4a4a;stroke-width:3.3"/>
<path class="g" d="M1650.5 335.3 L1653.3 332.2" style="stroke:#4a4a4a;stroke-width:3"/>
<path class="g" d="M1651.9 329.4 L1649 335.7" style="stroke:#4a4a4a;stroke-width:3.2"/>
<path class="g" d="M1645.6 344.2 L1646.3 340.7" style="stroke:#4a4a4a;stroke-width:3.3"/>
<path class="g" d="M1630.8 351 L1632.9 355.2" style="stroke:#4a4a4a;stroke-width:2.8"/>
<path class="g" d="M1638.6 332.3 L1643.2 330.2" style="stroke:#4a4a4a;stroke-width:3.5"/>
<circle cx="1652.7" cy="432.2" r="30.5" fill="none" stroke="#8a8a8a" stroke-width="2.2"/>
<path d="M1677.5 449.9 A30.5 30.5 0 0 1 1624.4 443.7" fill="none" stroke="#2a2a2a" stroke-width="6.6" stroke-linecap="round"/>
<path d="M1632.3 409.5 A30.5 30.5 0 0 1 1663.7 403.8" fill="none" stroke="#333" stroke-width="3.7" stroke-linecap="round"/>
<path d="M1662.3 403.2 A30.5 30.5 0 0 1 1683 428.7" fill="none" stroke="#3a3a3a" stroke-width="3.9" stroke-linecap="round"/>
<path class="g" d="M1635.6 434.7 L1638.7 437.9" style="stroke:#4a4a4a;stroke-width:2.5"/>
<path class="g" d="M1655.6 417.3 L1657.9 416.2" style="stroke:#4a4a4a;stroke-width:3.2"/>
<path class="g" d="M1655.2 416.2 L1658.3 409.6" style="stroke:#4a4a4a;stroke-width:2.5"/>
<path class="g" d="M1637.3 438.2 L1633.4 440.8" style="stroke:#4a4a4a;stroke-width:3.2"/>
<path class="g" d="M1665.5 435.6 L1661.6 429.4" style="stroke:#4a4a4a;stroke-width:2.4"/>
<path class="g" d="M1649.5 439.4 L1645.2 432.9" style="stroke:#4a4a4a;stroke-width:2.9"/>
<path class="g" d="M1641.2 443 L1642.4 439.3" style="stroke:#4a4a4a;stroke-width:3.6"/>
<path class="g" d="M1664.7 432.2 L1661.6 431" style="stroke:#4a4a4a;stroke-width:2.4"/>
<path class="g" d="M1658.3 422.2 L1651.8 423.8" style="stroke:#4a4a4a;stroke-width:2.4"/>
<circle cx="1649.8" cy="519.4" r="30.5" fill="none" stroke="#8a8a8a" stroke-width="2.2"/>
<path d="M1677.6 531.8 A30.5 30.5 0 0 1 1626.9 539.5" fill="none" stroke="#2a2a2a" stroke-width="5.8" stroke-linecap="round"/>
<path d="M1629.4 496.7 A30.5 30.5 0 0 1 1665.9 493.5" fill="none" stroke="#333" stroke-width="3.6" stroke-linecap="round"/>
<path d="M1673.4 500.1 A30.5 30.5 0 0 1 1678.5 529.8" fill="none" stroke="#3a3a3a" stroke-width="3.4" stroke-linecap="round"/>
<path class="g" d="M1659.5 531.5 L1660.4 537.9" style="stroke:#4a4a4a;stroke-width:3.7"/>
<path class="g" d="M1641.3 512.5 L1646.8 505.5" style="stroke:#4a4a4a;stroke-width:2.4"/>
<path class="g" d="M1635.3 513 L1630.3 514.9" style="stroke:#4a4a4a;stroke-width:3.6"/>
<path class="g" d="M1640.9 528.2 L1637.1 525.3" style="stroke:#4a4a4a;stroke-width:3.8"/>
<path class="g" d="M1633.7 534.6 L1639.5 535.9" style="stroke:#4a4a4a;stroke-width:2.6"/>
<path class="g" d="M1663.4 517.8 L1662.2 515.2" style="stroke:#4a4a4a;stroke-width:3.8"/>
<path class="g" d="M1640 519.9 L1639.7 514.6" style="stroke:#4a4a4a;stroke-width:3.2"/>
<path class="g" d="M1640.5 522.9 L1644.4 527.4" style="stroke:#4a4a4a;stroke-width:2.2"/>
<path class="g" d="M1640.4 517.5 L1646.5 521.4" style="stroke:#4a4a4a;stroke-width:2.6"/>
<circle cx="1763" cy="318.8" r="40.7" fill="none" stroke="#8a8a8a" stroke-width="2.2"/>
<path d="M1802.4 328.9 A40.7 40.7 0 0 1 1737.7 350.6" fill="none" stroke="#2a2a2a" stroke-width="6.6" stroke-linecap="round"/>
<path d="M1724.3 306.1 A40.7 40.7 0 0 1 1759.1 278.3" fill="none" stroke="#333" stroke-width="3.7" stroke-linecap="round"/>
<path d="M1790.4 288.7 A40.7 40.7 0 0 1 1803 326.1" fill="none" stroke="#3a3a3a" stroke-width="3.7" stroke-linecap="round"/>
<path class="g" d="M1781.2 335.5 L1778.4 336" style="stroke:#4a4a4a;stroke-width:2.7"/>
<path class="g" d="M1757.5 337 L1757 335.1" style="stroke:#4a4a4a;stroke-width:3.4"/>
<path class="g" d="M1757.1 315 L1753.6 314.4" style="stroke:#4a4a4a;stroke-width:3.7"/>
<path class="g" d="M1777.8 306.2 L1771 310.1" style="stroke:#4a4a4a;stroke-width:2.9"/>
<path class="g" d="M1742.2 308.1 L1744 307.8" style="stroke:#4a4a4a;stroke-width:3.7"/>
<path class="g" d="M1751.2 329.1 L1756.1 324.9" style="stroke:#4a4a4a;stroke-width:2.7"/>
<path class="g" d="M1766.7 312 L1771.4 314.8" style="stroke:#4a4a4a;stroke-width:2.9"/>
<path class="g" d="M1757.3 343.3 L1763 338.3" style="stroke:#4a4a4a;stroke-width:3"/>
<path class="g" d="M1745.6 313.3 L1743.2 308.4" style="stroke:#4a4a4a;stroke-width:3.1"/>
<circle cx="1763" cy="420.6" r="46.5" fill="none" stroke="#8a8a8a" stroke-width="2.2"/>
<path d="M1801.8 446.2 A46.5 46.5 0 0 1 1737.2 459.3" fill="none" stroke="#2a2a2a" stroke-width="5.1" stroke-linecap="round"/>
<path d="M1728.4 389.6 A46.5 46.5 0 0 1 1782.4 378.3" fill="none" stroke="#333" stroke-width="3.9" stroke-linecap="round"/>
<path d="M1772.1 375 A46.5 46.5 0 0 1 1807.5 407" fill="none" stroke="#3a3a3a" stroke-width="4" stroke-linecap="round"/>
<path class="g" d="M1789.5 420.3 L1783.2 425.1" style="stroke:#4a4a4a;stroke-width:2.6"/>
<path class="g" d="M1742.6 394 L1745.5 388.9" style="stroke:#4a4a4a;stroke-width:2.7"/>
<path class="g" d="M1772.7 415.1 L1774.3 413.9" style="stroke:#4a4a4a;stroke-width:2.5"/>
<path class="g" d="M1757.1 414.9 L1751.6 413.2" style="stroke:#4a4a4a;stroke-width:2.3"/>
<path class="g" d="M1784.5 428.7 L1787.9 434" style="stroke:#4a4a4a;stroke-width:2.4"/>
<path class="g" d="M1748.7 427.2 L1750.1 427" style="stroke:#4a4a4a;stroke-width:3.7"/>
<path class="g" d="M1757 426.7 L1759.8 421.8" style="stroke:#4a4a4a;stroke-width:3.2"/>
<path class="g" d="M1730.6 419.4 L1731.4 421.1" style="stroke:#4a4a4a;stroke-width:2.6"/>
<path class="g" d="M1749.7 416.1 L1753.2 416.4" style="stroke:#4a4a4a;stroke-width:2.4"/>
<circle cx="1763" cy="519.4" r="37.8" fill="none" stroke="#8a8a8a" stroke-width="2.2"/>
<path d="M1799.8 528 A37.8 37.8 0 0 1 1733.9 543.5" fill="none" stroke="#2a2a2a" stroke-width="6.1" stroke-linecap="round"/>
<path d="M1726.2 510.9 A37.8 37.8 0 0 1 1758.4 481.9" fill="none" stroke="#333" stroke-width="3.9" stroke-linecap="round"/>
<path d="M1772.3 482.8 A37.8 37.8 0 0 1 1799.4 509.2" fill="none" stroke="#3a3a3a" stroke-width="3.1" stroke-linecap="round"/>
<path class="g" d="M1776.6 532.9 L1772.9 538.2" style="stroke:#4a4a4a;stroke-width:3"/>
<path class="g" d="M1752.5 540.7 L1745.9 543.8" style="stroke:#4a4a4a;stroke-width:2.3"/>
<path class="g" d="M1778.9 541.5 L1781.4 537.7" style="stroke:#4a4a4a;stroke-width:2.4"/>
<path class="g" d="M1783.4 515.9 L1787.9 510.8" style="stroke:#4a4a4a;stroke-width:3.2"/>
<path class="g" d="M1756.3 528.1 L1754 529.7" style="stroke:#4a4a4a;stroke-width:2.8"/>
<path class="g" d="M1756.4 525.2 L1761 527.2" style="stroke:#4a4a4a;stroke-width:3.5"/>
<path class="g" d="M1740.2 529.6 L1740.4 530.8" style="stroke:#4a4a4a;stroke-width:3.1"/>
<path class="g" d="M1762.1 504.8 L1756.5 498.3" style="stroke:#4a4a4a;stroke-width:2.5"/>
<path class="g" d="M1788 525.7 L1787.8 529.4" style="stroke:#4a4a4a;stroke-width:2.2"/>
<circle cx="1859" cy="321.7" r="33.4" fill="none" stroke="#8a8a8a" stroke-width="2.2"/>
<path d="M1890.1 333.9 A33.4 33.4 0 0 1 1826.2 328.1" fill="none" stroke="#2a2a2a" stroke-width="5.8" stroke-linecap="round"/>
<path d="M1828.6 308 A33.4 33.4 0 0 1 1856.4 288.4" fill="none" stroke="#333" stroke-width="3.1" stroke-linecap="round"/>
<path d="M1869.2 289.9 A33.4 33.4 0 0 1 1888.6 306.3" fill="none" stroke="#3a3a3a" stroke-width="3.4" stroke-linecap="round"/>
<path class="g" d="M1841.9 336.6 L1837.1 333.2" style="stroke:#4a4a4a;stroke-width:2.6"/>
<path class="g" d="M1864.7 330.8 L1861 330.6" style="stroke:#4a4a4a;stroke-width:2.3"/>
<path class="g" d="M1870 316 L1876.2 318.7" style="stroke:#4a4a4a;stroke-width:3.3"/>
<path class="g" d="M1835.4 325.9 L1830.1 328.3" style="stroke:#4a4a4a;stroke-width:2.7"/>
<path class="g" d="M1850 304.2 L1845.3 300.1" style="stroke:#4a4a4a;stroke-width:2.2"/>
<path class="g" d="M1859.8 328.2 L1858.4 334.9" style="stroke:#4a4a4a;stroke-width:2.8"/>
<path class="g" d="M1853.5 335 L1850.5 338.3" style="stroke:#4a4a4a;stroke-width:3.3"/>
<path class="g" d="M1864.1 330.1 L1866.5 336.3" style="stroke:#4a4a4a;stroke-width:3.2"/>
<path class="g" d="M1836.7 332.1 L1829.8 325.9" style="stroke:#4a4a4a;stroke-width:3.4"/>
<circle cx="1859" cy="417.7" r="33.4" fill="none" stroke="#8a8a8a" stroke-width="2.2"/>
<path d="M1890.5 428.8 A33.4 33.4 0 0 1 1841.1 445.9" fill="none" stroke="#2a2a2a" stroke-width="5.7" stroke-linecap="round"/>
<path d="M1837.3 392.3 A33.4 33.4 0 0 1 1871.9 386.9" fill="none" stroke="#333" stroke-width="3.5" stroke-linecap="round"/>
<path d="M1867.5 385.4 A33.4 33.4 0 0 1 1887 399.4" fill="none" stroke="#3a3a3a" stroke-width="3.9" stroke-linecap="round"/>
<path class="g" d="M1835.3 419 L1829 415.4" style="stroke:#4a4a4a;stroke-width:2.3"/>
<path class="g" d="M1854 421.4 L1850.6 420.1" style="stroke:#4a4a4a;stroke-width:2.7"/>
<path class="g" d="M1864.5 419.5 L1871.1 415" style="stroke:#4a4a4a;stroke-width:3"/>
<path class="g" d="M1846.2 426.7 L1840.4 424.1" style="stroke:#4a4a4a;stroke-width:2.4"/>
<path class="g" d="M1836.3 411.6 L1837.7 416.6" style="stroke:#4a4a4a;stroke-width:2.5"/>
<path class="g" d="M1874.7 419.4 L1874.5 420.4" style="stroke:#4a4a4a;stroke-width:2.8"/>
<path class="g" d="M1845.2 403.9 L1851 401.2" style="stroke:#4a4a4a;stroke-width:2.9"/>
<path class="g" d="M1863.4 409.3 L1858 406.6" style="stroke:#4a4a4a;stroke-width:2.3"/>
<path class="g" d="M1862 396.5 L1859.4 391.3" style="stroke:#4a4a4a;stroke-width:2.3"/>
<circle cx="1856" cy="504.9" r="34.9" fill="none" stroke="#8a8a8a" stroke-width="2.2"/>
<path d="M1889.9 513.1 A34.9 34.9 0 0 1 1836.2 533.6" fill="none" stroke="#2a2a2a" stroke-width="5.5" stroke-linecap="round"/>
<path d="M1826.1 486.9 A34.9 34.9 0 0 1 1852.7 470.2" fill="none" stroke="#333" stroke-width="3.1" stroke-linecap="round"/>
<path d="M1880.7 480.2 A34.9 34.9 0 0 1 1890.8 502.8" fill="none" stroke="#3a3a3a" stroke-width="3.2" stroke-linecap="round"/>
<path class="g" d="M1853.1 517.6 L1847.4 516.5" style="stroke:#4a4a4a;stroke-width:2.7"/>
<path class="g" d="M1856.2 488 L1861.8 490.2" style="stroke:#4a4a4a;stroke-width:3.4"/>
<path class="g" d="M1843.1 498.3 L1847.5 500.5" style="stroke:#4a4a4a;stroke-width:3.7"/>
<path class="g" d="M1853.3 485.2 L1850 489.5" style="stroke:#4a4a4a;stroke-width:2.8"/>
<path class="g" d="M1860.5 509.7 L1855.9 506.4" style="stroke:#4a4a4a;stroke-width:3.3"/>
<path class="g" d="M1854.5 511.3 L1858.2 512.1" style="stroke:#4a4a4a;stroke-width:2.2"/>
<path class="g" d="M1863.6 507.4 L1861.6 512.4" style="stroke:#4a4a4a;stroke-width:3.7"/>
<path class="g" d="M1848.3 498.4 L1847.3 496.5" style="stroke:#4a4a4a;stroke-width:2.7"/>
<path class="g" d="M1873.4 506.3 L1878 509.4" style="stroke:#4a4a4a;stroke-width:2.4"/>
<circle cx="1943.4" cy="294" r="24.7" fill="none" stroke="#8a8a8a" stroke-width="2.2"/>
<path d="M1966 303.9 A24.7 24.7 0 0 1 1927.7 313.1" fill="none" stroke="#2a2a2a" stroke-width="6" stroke-linecap="round"/>
<path d="M1921 283.5 A24.7 24.7 0 0 1 1948.9 269.9" fill="none" stroke="#333" stroke-width="4.1" stroke-linecap="round"/>
<path d="M1950.2 270.2 A24.7 24.7 0 0 1 1965.9 283.7" fill="none" stroke="#3a3a3a" stroke-width="3.9" stroke-linecap="round"/>
<path class="g" d="M1933.6 296.5 L1932.7 300.2" style="stroke:#4a4a4a;stroke-width:3.7"/>
<path class="g" d="M1925.7 290.3 L1927 284.8" style="stroke:#4a4a4a;stroke-width:3.5"/>
<path class="g" d="M1939.5 296.2 L1946.2 289.6" style="stroke:#4a4a4a;stroke-width:3.1"/>
<path class="g" d="M1926.7 295.9 L1925.2 291.9" style="stroke:#4a4a4a;stroke-width:2.6"/>
<path class="g" d="M1947 305.5 L1945 309" style="stroke:#4a4a4a;stroke-width:2.6"/>
<path class="g" d="M1939 299.9 L1945.7 304.7" style="stroke:#4a4a4a;stroke-width:3.6"/>
<path class="g" d="M1936.3 287.5 L1931.3 292.1" style="stroke:#4a4a4a;stroke-width:3"/>
<path class="g" d="M1949.4 295.5 L1943.8 298.5" style="stroke:#4a4a4a;stroke-width:3.6"/>
<path class="g" d="M1948.3 308.7 L1945.8 311.3" style="stroke:#4a4a4a;stroke-width:3.6"/>
<circle cx="1997" cy="295.6" r="24.7" fill="none" stroke="#8a8a8a" stroke-width="2.2"/>
<path d="M2019 306.7 A24.7 24.7 0 0 1 1973.3 302.4" fill="none" stroke="#2a2a2a" stroke-width="5.4" stroke-linecap="round"/>
<path d="M1972.4 293.3 A24.7 24.7 0 0 1 1987.9 272.6" fill="none" stroke="#333" stroke-width="3.8" stroke-linecap="round"/>
<path d="M2005.1 272.3 A24.7 24.7 0 0 1 2020.3 287.5" fill="none" stroke="#3a3a3a" stroke-width="3.3" stroke-linecap="round"/>
<path class="g" d="M2005.2 297 L2003.6 296.7" style="stroke:#4a4a4a;stroke-width:3.3"/>
<path class="g" d="M1982.3 306.4 L1986.7 312.4" style="stroke:#4a4a4a;stroke-width:3.3"/>
<path class="g" d="M1991.4 285.4 L1995.6 283.5" style="stroke:#4a4a4a;stroke-width:3.1"/>
<path class="g" d="M1992.1 285.3 L1989.1 279.4" style="stroke:#4a4a4a;stroke-width:2.3"/>
<path class="g" d="M1989.4 305.3 L1993 308.3" style="stroke:#4a4a4a;stroke-width:2.7"/>
<path class="g" d="M2004 292.3 L2007 286.3" style="stroke:#4a4a4a;stroke-width:3.4"/>
<path class="g" d="M1988.4 279.9 L1993.9 282.6" style="stroke:#4a4a4a;stroke-width:3.5"/>
<path class="g" d="M1996.1 282.9 L1992 283.1" style="stroke:#4a4a4a;stroke-width:3.6"/>
<path class="g" d="M1998.2 313.7 L1998.9 312.2" style="stroke:#4a4a4a;stroke-width:2.2"/>
<circle cx="1942" cy="385.7" r="24.7" fill="none" stroke="#8a8a8a" stroke-width="2.2"/>
<path d="M1965.4 393.6 A24.7 24.7 0 0 1 1926.2 404.7" fill="none" stroke="#2a2a2a" stroke-width="5.9" stroke-linecap="round"/>
<path d="M1924.7 368.1 A24.7 24.7 0 0 1 1955.2 364.8" fill="none" stroke="#333" stroke-width="3.9" stroke-linecap="round"/>
<path d="M1954.1 364.2 A24.7 24.7 0 0 1 1965.6 378.3" fill="none" stroke="#3a3a3a" stroke-width="3.7" stroke-linecap="round"/>
<path class="g" d="M1928.5 381 L1926.7 386.4" style="stroke:#4a4a4a;stroke-width:2.5"/>
<path class="g" d="M1939.4 392.9 L1941.1 398.5" style="stroke:#4a4a4a;stroke-width:2.5"/>
<path class="g" d="M1931.9 374.5 L1928 368.4" style="stroke:#4a4a4a;stroke-width:3.1"/>
<path class="g" d="M1950.1 371.1 L1953.3 369.9" style="stroke:#4a4a4a;stroke-width:2.9"/>
<path class="g" d="M1925.2 382.6 L1922.4 379.6" style="stroke:#4a4a4a;stroke-width:3.2"/>
<path class="g" d="M1948.3 384.3 L1941.8 379" style="stroke:#4a4a4a;stroke-width:3.1"/>
<path class="g" d="M1936.9 381.8 L1932.5 383.1" style="stroke:#4a4a4a;stroke-width:3.2"/>
<path class="g" d="M1936.7 372.2 L1930.5 372" style="stroke:#4a4a4a;stroke-width:3.5"/>
<path class="g" d="M1950.1 383.5 L1955 385.5" style="stroke:#4a4a4a;stroke-width:3.7"/>
<circle cx="1995.7" cy="385.7" r="24.7" fill="none" stroke="#8a8a8a" stroke-width="2.2"/>
<path d="M2019.8 391.3 A24.7 24.7 0 0 1 1972.7 394.8" fill="none" stroke="#2a2a2a" stroke-width="6.3" stroke-linecap="round"/>
<path d="M1973.6 374.7 A24.7 24.7 0 0 1 1989.3 361.8" fill="none" stroke="#333" stroke-width="3.3" stroke-linecap="round"/>
<path d="M2003.3 362.2 A24.7 24.7 0 0 1 2017.2 373.6" fill="none" stroke="#3a3a3a" stroke-width="3.2" stroke-linecap="round"/>
<path class="g" d="M1991.8 382.2 L1995.4 385.5" style="stroke:#4a4a4a;stroke-width:3.5"/>
<path class="g" d="M2000.4 372.2 L2006.4 378.6" style="stroke:#4a4a4a;stroke-width:3.2"/>
<path class="g" d="M2000.8 384.6 L1995.3 378.5" style="stroke:#4a4a4a;stroke-width:2.5"/>
<path class="g" d="M1988.3 393.2 L1990.8 396.6" style="stroke:#4a4a4a;stroke-width:2.3"/>
<path class="g" d="M1986 392.4 L1984.3 387.1" style="stroke:#4a4a4a;stroke-width:3.2"/>
<path class="g" d="M1986 395.5 L1985.9 402" style="stroke:#4a4a4a;stroke-width:3.7"/>
<path class="g" d="M2009.2 392.3 L2012.2 389.4" style="stroke:#4a4a4a;stroke-width:2.4"/>
<path class="g" d="M1986.8 386.9 L1990.1 392.7" style="stroke:#4a4a4a;stroke-width:2.8"/>
<path class="g" d="M1992.9 396.4 L1995.7 400.5" style="stroke:#4a4a4a;stroke-width:3.1"/>
<circle cx="1949" cy="461.3" r="33.4" fill="none" stroke="#8a8a8a" stroke-width="2.2"/>
<path d="M1981.2 470.1 A33.4 33.4 0 0 1 1924 483.4" fill="none" stroke="#2a2a2a" stroke-width="6.3" stroke-linecap="round"/>
<path d="M1919.6 445.4 A33.4 33.4 0 0 1 1940.4 429" fill="none" stroke="#333" stroke-width="3.6" stroke-linecap="round"/>
<path d="M1961.5 430.3 A33.4 33.4 0 0 1 1982.1 456.6" fill="none" stroke="#3a3a3a" stroke-width="3.1" stroke-linecap="round"/>
<path class="g" d="M1948.1 468.2 L1947.8 475" style="stroke:#4a4a4a;stroke-width:3.1"/>
<path class="g" d="M1931.1 476.8 L1925.4 474.8" style="stroke:#4a4a4a;stroke-width:3.5"/>
<path class="g" d="M1969.3 462 L1967.4 455.2" style="stroke:#4a4a4a;stroke-width:2.6"/>
<path class="g" d="M1936.8 464.6 L1937 458.3" style="stroke:#4a4a4a;stroke-width:2.5"/>
<path class="g" d="M1962.7 459.1 L1962.3 453.3" style="stroke:#4a4a4a;stroke-width:2.6"/>
<path class="g" d="M1967 456 L1967.1 449.8" style="stroke:#4a4a4a;stroke-width:2.8"/>
<path class="g" d="M1951.4 447.8 L1952.7 453.4" style="stroke:#4a4a4a;stroke-width:3.2"/>
<path class="g" d="M1945.2 457 L1938.6 460.8" style="stroke:#4a4a4a;stroke-width:2.9"/>
<path class="g" d="M1964.2 446 L1970 444.3" style="stroke:#4a4a4a;stroke-width:3.8"/>
<circle cx="1940.5" cy="529.6" r="24.7" fill="none" stroke="#8a8a8a" stroke-width="2.2"/>
<path d="M1961.6 542.5 A24.7 24.7 0 0 1 1916.2 534.3" fill="none" stroke="#2a2a2a" stroke-width="4.9" stroke-linecap="round"/>
<path d="M1921.6 513.7 A24.7 24.7 0 0 1 1944.8 505.3" fill="none" stroke="#333" stroke-width="4.4" stroke-linecap="round"/>
<path d="M1961.8 517.1 A24.7 24.7 0 0 1 1964.2 536.5" fill="none" stroke="#3a3a3a" stroke-width="3.4" stroke-linecap="round"/>
<path class="g" d="M1939.1 540.2 L1936.1 542.5" style="stroke:#4a4a4a;stroke-width:2.4"/>
<path class="g" d="M1945.6 538.8 L1939.6 537.1" style="stroke:#4a4a4a;stroke-width:3.6"/>
<path class="g" d="M1945.5 525.2 L1938.7 529.8" style="stroke:#4a4a4a;stroke-width:3.7"/>
<path class="g" d="M1935.8 526.3 L1932.2 532.1" style="stroke:#4a4a4a;stroke-width:3.7"/>
<path class="g" d="M1946.8 530.9 L1945.8 527.6" style="stroke:#4a4a4a;stroke-width:3.4"/>
<path class="g" d="M1929.9 540.5 L1925 540.7" style="stroke:#4a4a4a;stroke-width:3.8"/>
<path class="g" d="M1939 524.8 L1933.6 526.8" style="stroke:#4a4a4a;stroke-width:2.8"/>
<path class="g" d="M1933.2 537.5 L1934.3 544" style="stroke:#4a4a4a;stroke-width:2.6"/>
<path class="g" d="M1933.6 526.4 L1934.2 529.7" style="stroke:#4a4a4a;stroke-width:2.4"/>
<path class="g" d="M1720 275 L1806 273 L1808 365" style="stroke:#555;stroke-width:2.6"/>
<path d="M1722 382 l10 -4 l-2 12 z" fill="#333"/>
<path d="M1720 545 l10 -4 l-2 12 z" fill="#333"/>
<path d="M1800 552 l10 -4 l-2 12 z" fill="#333"/>
<path d="M1822 528 l10 -4 l-2 12 z" fill="#333"/>
<path d="M1918 270 l10 -4 l-2 12 z" fill="#333"/>
<path d="M2020 270 l10 -4 l-2 12 z" fill="#333"/>
<path d="M1918 318 l10 -4 l-2 12 z" fill="#333"/>
<path d="M1916 540 l10 -4 l-2 12 z" fill="#333"/>
<path class="g" d="M1745 300 L1775 335" style="stroke:#3a3a3a;stroke-width:2.8"/>
<path class="g" d="M1752 296 L1782 330" style="stroke:#3a3a3a;stroke-width:2.8"/>
<path class="g" d="M1565 468.8 L1556.2 472.6" style="stroke:#777;stroke-width:2.5"/>
<path class="g" d="M1583.1 323.2 L1579.7 327.4" style="stroke:#444;stroke-width:2.1"/>
<path class="g" d="M1557.7 357.2 L1549.1 354.4" style="stroke:#777;stroke-width:2.2"/>
<path class="g" d="M1537.5 530.9 L1538.7 527.8" style="stroke:#999;stroke-width:3.9"/>
<path class="g" d="M1601.1 556.3 L1597.6 551.6" style="stroke:#999;stroke-width:2.2"/>
<path class="g" d="M1562.6 478.2 L1563.1 476.7" style="stroke:#999;stroke-width:2.6"/>
<path class="g" d="M1570.5 507.2 L1564 505.1" style="stroke:#777;stroke-width:2"/>
<path class="g" d="M1571.5 425.7 L1563.2 429.1" style="stroke:#444;stroke-width:2.7"/>
<path class="g" d="M1539.1 549.9 L1534.8 546.8" style="stroke:#444;stroke-width:3.5"/>
<path class="g" d="M1548.2 507 L1550.4 505.5" style="stroke:#999;stroke-width:3.6"/>
<path class="g" d="M1582.1 433.5 L1588.8 439.3" style="stroke:#444;stroke-width:3.2"/>
<path class="g" d="M1571.6 529.5 L1568.9 524.3" style="stroke:#777;stroke-width:2.1"/>
<path class="g" d="M1591.5 403.3 L1598.1 396.8" style="stroke:#999;stroke-width:2.8"/>
<path class="g" d="M1559.8 414.7 L1558.7 415.8" style="stroke:#999;stroke-width:3.9"/>
<path class="g" d="M1536.5 269.9 L1539.9 264.2" style="stroke:#444;stroke-width:3.4"/>
<path class="g" d="M1551.4 412.6 L1552.1 417.3" style="stroke:#999;stroke-width:3.4"/>
<path class="g" d="M1549 375.6 L1545.5 374.9" style="stroke:#777;stroke-width:2"/>
<path class="g" d="M1586.4 409.9 L1593.6 409.4" style="stroke:#444;stroke-width:3.3"/>
<path class="g" d="M1600.6 347.5 L1602.7 346.9" style="stroke:#444;stroke-width:2.7"/>
<path class="g" d="M1534.1 381.8 L1536.3 383.9" style="stroke:#444;stroke-width:2.4"/>
<path class="g" d="M1598.5 302.6 L1598.5 308.7" style="stroke:#777;stroke-width:3.8"/>
<path class="g" d="M1539.2 333 L1539.1 333.5" style="stroke:#444;stroke-width:3.1"/>
<path class="g" d="M1579 380.1 L1584.1 384.8" style="stroke:#777;stroke-width:3.2"/>
<path class="g" d="M1543.1 381.9 L1549.3 382.1" style="stroke:#777;stroke-width:3.3"/>
<path class="g" d="M1577.3 546.4 L1570.4 550.2" style="stroke:#777;stroke-width:2.2"/>
<path class="g" d="M1595 338.2 L1599.7 333.7" style="stroke:#999;stroke-width:2.8"/>
<path class="g" d="M1577 474.4 L1572.7 473.2" style="stroke:#777;stroke-width:3.8"/>
<path class="g" d="M1552 340.7 L1549.1 347.7" style="stroke:#777;stroke-width:2.1"/>
<path class="g" d="M1551.2 305.8 L1559.2 309.9" style="stroke:#999;stroke-width:2.8"/>
<path class="g" d="M1563.6 272.2 L1562.1 278.4" style="stroke:#999;stroke-width:2.6"/>
<path class="g" d="M1536.3 408.6 L1544.1 414.8" style="stroke:#777;stroke-width:2.8"/>
<path class="g" d="M1541.1 326.3 L1543.2 320.6" style="stroke:#999;stroke-width:4"/>
<path class="g" d="M1569.8 385.6 L1565.7 386.3" style="stroke:#777;stroke-width:2.1"/>
<path class="g" d="M1595.9 554.2 L1589.3 556.4" style="stroke:#444;stroke-width:3.8"/>
<path class="g" d="M1553.1 501.4 L1553.6 496.3" style="stroke:#444;stroke-width:3.7"/>
<path class="g" d="M1577.4 345 L1578.3 349.2" style="stroke:#999;stroke-width:3"/>
<path class="g" d="M1549.9 480.7 L1545.5 480.3" style="stroke:#999;stroke-width:3.2"/>
<path class="g" d="M1538.3 312.8 L1541.8 316" style="stroke:#444;stroke-width:2.9"/>
<path class="g" d="M1546 327.4 L1548.6 330.5" style="stroke:#777;stroke-width:3.2"/>
<path class="g" d="M1594 300.6 L1597.6 295.1" style="stroke:#999;stroke-width:3.8"/>
<path class="g" d="M1576.3 466.3 L1577.1 467.1" style="stroke:#444;stroke-width:3.5"/>
<path class="g" d="M1553.9 433.4 L1556.4 433.3" style="stroke:#999;stroke-width:3.8"/>
<path class="g" d="M1549.7 353.5 L1556.5 348.3" style="stroke:#777;stroke-width:2.6"/>
<path class="g" d="M1556.5 489.7 L1552.7 485.4" style="stroke:#999;stroke-width:2.1"/>
<path class="g" d="M1565.5 299.5 L1573.9 298.3" style="stroke:#777;stroke-width:2.8"/>
<path class="g" d="M1592.5 459.5 L1589.6 462.7" style="stroke:#999;stroke-width:2.7"/>
<path class="g" d="M1581.1 494.6 L1572.3 495.7" style="stroke:#999;stroke-width:2"/>
<path class="g" d="M1588.9 489.2 L1595 482.8" style="stroke:#999;stroke-width:2"/>
<path class="g" d="M1602.8 478.4 L1596.8 473.8" style="stroke:#999;stroke-width:2.5"/>
<path class="g" d="M1591.8 451.8 L1589.8 453.8" style="stroke:#444;stroke-width:3.3"/>
<path class="g" d="M1598.8 313.6 L1594.1 307.5" style="stroke:#999;stroke-width:2.7"/>
<path class="g" d="M1572.8 319.1 L1565.5 319.9" style="stroke:#999;stroke-width:3.5"/>
<path class="g" d="M1562.2 462.7 L1554.3 459.4" style="stroke:#444;stroke-width:2.3"/>
<path class="g" d="M1532.4 254.5 L1537.2 249" style="stroke:#777;stroke-width:3.8"/>
<path class="g" d="M1597.2 395.5 L1593.4 389.6" style="stroke:#999;stroke-width:3.5"/>
<path class="g" d="M1576 508.8 L1578.1 511.8" style="stroke:#999;stroke-width:2.4"/>
<path class="g" d="M1578.2 387.6 L1578.2 394.2" style="stroke:#999;stroke-width:2.7"/>
<path class="g" d="M1535.7 364.5 L1528.3 360.6" style="stroke:#444;stroke-width:2.1"/>
<path class="g" d="M1532.5 308.1 L1539.2 306.6" style="stroke:#444;stroke-width:3.8"/>
<path class="g" d="M1581.1 317.3 L1579.3 316.6" style="stroke:#777;stroke-width:3.9"/>
<path class="g" d="M1549.1 412.7 L1543.7 415.3" style="stroke:#999;stroke-width:2.5"/>
<path class="g" d="M1535.1 322.1 L1533.7 326.5" style="stroke:#999;stroke-width:3.8"/>
<path class="g" d="M1571.2 505.9 L1575.4 509.2" style="stroke:#444;stroke-width:2.7"/>
<path class="g" d="M1547.3 461.4 L1552.1 457.1" style="stroke:#999;stroke-width:3.9"/>
<path class="g" d="M1540.4 446.3 L1544.2 445.4" style="stroke:#444;stroke-width:3.3"/>
<path class="g" d="M1542 418.7 L1545.7 425" style="stroke:#999;stroke-width:2"/>
<path class="g" d="M1570.3 546.9 L1576.4 544.5" style="stroke:#444;stroke-width:3"/>
<path class="g" d="M1556.3 556.3 L1560.3 554.5" style="stroke:#777;stroke-width:2.5"/>
<path class="g" d="M1572 524.7 L1568.9 531.3" style="stroke:#777;stroke-width:2.3"/>
<path class="g" d="M1560.8 386.5 L1566.7 382.7" style="stroke:#777;stroke-width:2.2"/>
<path class="g" d="M1567.6 490.7 L1567.3 484.9" style="stroke:#999;stroke-width:3.2"/>
<path class="g" d="M1535.3 476.4 L1533.6 473.9" style="stroke:#444;stroke-width:2.6"/>
<path class="g" d="M1580.2 288.3 L1580.5 282.4" style="stroke:#999;stroke-width:3.7"/>
<path class="g" d="M1580.5 276.4 L1580.2 281.7" style="stroke:#444;stroke-width:2.9"/>
<path class="g" d="M1539.6 336.2 L1538.7 330.2" style="stroke:#999;stroke-width:3"/>
<path class="g" d="M1595.8 507.8 L1597.5 501.8" style="stroke:#777;stroke-width:2.6"/>
<path class="g" d="M1535.4 357.2 L1543.4 351.4" style="stroke:#777;stroke-width:3.7"/>
<path class="g" d="M1555.4 282.2 L1552.3 286.8" style="stroke:#777;stroke-width:2.7"/>
<path class="g" d="M1580.8 390.4 L1587.5 384.2" style="stroke:#444;stroke-width:3.8"/>
<path class="g" d="M1551.8 392.6 L1558.8 392.9" style="stroke:#999;stroke-width:3"/>
<path class="g" d="M1593.1 426.6 L1592.3 428.8" style="stroke:#999;stroke-width:3.5"/>
<path class="g" d="M1599.9 288.4 L1592.1 286" style="stroke:#444;stroke-width:2.6"/>
<path class="g" d="M1556.1 437 L1557.7 432.5" style="stroke:#777;stroke-width:2.3"/>
<path class="g" d="M1551.5 426 L1553.1 428.8" style="stroke:#444;stroke-width:2.1"/>
<path class="g" d="M1534.3 444.2 L1530.4 446.4" style="stroke:#444;stroke-width:2.9"/>
<path class="g" d="M1935 247 L1957 248" style="stroke:#444;stroke-width:4"/>
<path class="g" d="M1990 248 L2012 249" style="stroke:#444;stroke-width:4"/>
<path class="g" d="M1935 343 L1957 344" style="stroke:#444;stroke-width:4"/>
<path class="g" d="M1990 344 L2012 345" style="stroke:#444;stroke-width:4"/>
<path class="g" d="M1667 262 L1667 292" style="stroke:#555;stroke-width:7;stroke-dasharray:5 3"/>
<path class="g" d="M1705 520 L1705 560" style="stroke:#444;stroke-width:5"/>
<path class="g" d="M1447.8 466.3 L1505.3 467.8 L1511.3 473.8" style="stroke:#3a3a3a;stroke-width:2.8"/>
<path class="g" d="M1379.7 588.8 L1509.8 607" style="stroke:#333;stroke-width:3.6"/>
<path class="g" d="M1447 468 L1382 520" style="stroke:#a8a8a8;stroke-width:2.2"/>
<ellipse class="f" cx="1429.6" cy="572" rx="5.5" ry="7"/>
<path class="g" d="M1421.6 555.5 L1437.6 555.5" style="stroke:#444;stroke-width:3.5"/>
<ellipse class="f" cx="1458.4" cy="572" rx="5.5" ry="7"/>
<path class="g" d="M1450.4 555.5 L1466.4 555.5" style="stroke:#444;stroke-width:3.5"/>
<ellipse class="f" cx="1487" cy="572" rx="5.5" ry="7"/>
<path class="g" d="M1479 555.5 L1495 555.5" style="stroke:#444;stroke-width:3.5"/>
<ellipse class="f" cx="1456.9" cy="517.7" rx="6" ry="7"/>
<path class="g" d="M1412 490 C1414.2 488.8 1422 481.3 1425 483 C1428 484.7 1431.2 493.8 1430 500 C1428.8 506.2 1419 513.3 1418 520 C1417 526.7 1423 536.7 1424 540" style="stroke:#6a6a6a;stroke-width:2.4"/>
<path class="g" d="M1511.3 380 L1511.3 697.8" style="stroke:#777;stroke-width:2.4;stroke-dasharray:16 4"/>
<path class="g" d="M1506 600 L1504 697" style="stroke:#a8a8a8;stroke-width:2.2"/>
<path class="g" d="M1493 652.4 L1453.8 713" style="stroke:#a8a8a8;stroke-width:2.2"/>
<path class="g" d="M1498 655 L1460 713" style="stroke:#a8a8a8;stroke-width:2.2"/>
<path class="g" d="M2115.7 445 L2171.7 449.6" style="stroke:#3a3a3a;stroke-width:2.8"/>
<path class="g" d="M2235 507 L2256.5 598 L2256.5 607 L2117 619" style="stroke:#3a3a3a;stroke-width:2.8"/>
<path class="g" d="M2178 496 L2195 500" style="stroke:#333;stroke-width:4"/>
<path class="g" d="M2155 520 L2172 528" style="stroke:#333;stroke-width:4"/>
<path class="g" d="M2180 520 L2186 530" style="stroke:#333;stroke-width:4"/>
<path class="g" d="M2200 505 L2218 510" style="stroke:#333;stroke-width:4"/>
<path class="g" d="M2140 560 L2170 572" style="stroke:#333;stroke-width:4"/>
<path class="g" d="M2148 575 L2172 582" style="stroke:#333;stroke-width:4"/>
<path class="g" d="M2190 560 L2210 562" style="stroke:#333;stroke-width:4"/>
<path class="g" d="M2200 575 L2222 590" style="stroke:#333;stroke-width:4"/>
<path class="g" d="M2206 590 L2222 596" style="stroke:#333;stroke-width:4"/>
<path class="g" d="M2142 595 L2158 602" style="stroke:#333;stroke-width:4"/>
<path class="g" d="M2172 540 L2238 545" style="stroke:#a8a8a8;stroke-width:2.2"/>
<path class="g" d="M2135 695 L2108.6 638 L2289 675" style="stroke:#3a3a3a;stroke-width:2.8"/>
<path class="g" d="M2289 675 L2305 690" style="stroke:#555;stroke-width:2.4;stroke-dasharray:6 4"/>
<path class="g" d="M1381 705.4 L1844 703" style="stroke:#a0a0a0;stroke-width:2.6;stroke-dasharray:14 7 4 7"/>
<path class="g" d="M1844 703 L1960 701" style="stroke:#555;stroke-width:3;stroke-dasharray:16 8"/>
<path class="g" d="M1975 700 L2160 697" style="stroke:#aaa;stroke-width:2.4;stroke-dasharray:18 12"/>
<path class="g" d="M1655 49 L1685 50" style="stroke:#a8a8a8;stroke-width:2.2"/>
<path class="g" d="M1700 49 L1740 50" style="stroke:#a8a8a8;stroke-width:2.2"/>
<path class="g" d="M1780 49 L1792 50" style="stroke:#a8a8a8;stroke-width:2.2"/>
<path class="g" d="M1840 49 L1854 50" style="stroke:#a8a8a8;stroke-width:2.2"/>

<text x="953" y="9" textLength="190" lengthAdjust="spacingAndGlyphs" font-family="Liberation Sans, sans-serif" font-size="48" fill="#2a2a2a" stroke="#2a2a2a" stroke-width="1">UNIOUN</text>
<text x="1160" y="4" textLength="310" lengthAdjust="spacingAndGlyphs" font-family="Liberation Sans, sans-serif" font-size="46" fill="#cfcfcf">DE ELEMENTE</text>
<g>
<text x="2126" y="3056" textLength="192" lengthAdjust="spacingAndGlyphs" font-family="Liberation Sans, sans-serif" font-weight="bold" font-size="62" fill="#333">31-10-X</text>
<text x="2128" y="3110" textLength="190" lengthAdjust="spacingAndGlyphs" font-family="Liberation Sans, sans-serif" font-weight="bold" font-size="58" fill="#333">PAG. 88</text>
<text x="2075" y="3181" textLength="243" lengthAdjust="spacingAndGlyphs" font-family="Liberation Sans, sans-serif" font-weight="bold" font-size="62" fill="#333">25.06.198</text>
<path d="M1780 2990 L1930 3200" stroke="#e9e9e9" stroke-width="13.5" fill="none"/>
<path d="M1801 2990 L1951 3200" stroke="#e9e9e9" stroke-width="13.5" fill="none"/>
<path d="M1822 2990 L1972 3200" stroke="#e9e9e9" stroke-width="13.5" fill="none"/>
<path d="M1843 2990 L1993 3200" stroke="#e9e9e9" stroke-width="13.5" fill="none"/>
<path d="M1864 2990 L2014 3200" stroke="#e9e9e9" stroke-width="13.5" fill="none"/>
<path d="M1885 2990 L2035 3200" stroke="#e9e9e9" stroke-width="13.5" fill="none"/>
<path d="M1906 2990 L2056 3200" stroke="#e9e9e9" stroke-width="13.5" fill="none"/>
<path d="M1927 2990 L2077 3200" stroke="#e9e9e9" stroke-width="13.5" fill="none"/>
<path d="M1948 2990 L2098 3200" stroke="#e9e9e9" stroke-width="13.5" fill="none"/>
<path d="M1969 2990 L2119 3200" stroke="#e9e9e9" stroke-width="13.5" fill="none"/>
<path d="M1990 2990 L2140 3200" stroke="#e9e9e9" stroke-width="13.5" fill="none"/>
<path d="M2011 2990 L2161 3200" stroke="#e9e9e9" stroke-width="13.5" fill="none"/>
<path d="M2032 2990 L2182 3200" stroke="#e9e9e9" stroke-width="13.5" fill="none"/>
<path d="M2053 2990 L2203 3200" stroke="#e9e9e9" stroke-width="13.5" fill="none"/>
<path d="M2074 2990 L2224 3200" stroke="#e9e9e9" stroke-width="13.5" fill="none"/>
<path d="M2095 2990 L2245 3200" stroke="#e9e9e9" stroke-width="13.5" fill="none"/>
<path d="M2116 2990 L2266 3200" stroke="#e9e9e9" stroke-width="13.5" fill="none"/>
<path d="M2137 2990 L2287 3200" stroke="#e9e9e9" stroke-width="13.5" fill="none"/>
<path d="M2158 2990 L2308 3200" stroke="#e9e9e9" stroke-width="13.5" fill="none"/>
<path d="M2179 2990 L2329 3200" stroke="#e9e9e9" stroke-width="13.5" fill="none"/>
<path d="M2200 2990 L2350 3200" stroke="#e9e9e9" stroke-width="13.5" fill="none"/>
<path d="M2221 2990 L2371 3200" stroke="#e9e9e9" stroke-width="13.5" fill="none"/>
<path d="M2242 2990 L2392 3200" stroke="#e9e9e9" stroke-width="13.5" fill="none"/>
<path d="M2263 2990 L2413 3200" stroke="#e9e9e9" stroke-width="13.5" fill="none"/>
<path d="M2284 2990 L2434 3200" stroke="#e9e9e9" stroke-width="13.5" fill="none"/>
<path d="M2305 2990 L2455 3200" stroke="#e9e9e9" stroke-width="13.5" fill="none"/>
<path d="M2326 2990 L2476 3200" stroke="#e9e9e9" stroke-width="13.5" fill="none"/>
<path d="M2347 2990 L2497 3200" stroke="#e9e9e9" stroke-width="13.5" fill="none"/>
<path d="M2368 2990 L2518 3200" stroke="#e9e9e9" stroke-width="13.5" fill="none"/>
<path d="M2389 2990 L2539 3200" stroke="#e9e9e9" stroke-width="13.5" fill="none"/>
<path d="M2410 2990 L2560 3200" stroke="#e9e9e9" stroke-width="13.5" fill="none"/>
<path d="M2431 2990 L2581 3200" stroke="#e9e9e9" stroke-width="13.5" fill="none"/>
<path d="M2452 2990 L2602 3200" stroke="#e9e9e9" stroke-width="13.5" fill="none"/>
<path d="M2473 2990 L2623 3200" stroke="#e9e9e9" stroke-width="13.5" fill="none"/>
<path d="M2494 2990 L2644 3200" stroke="#e9e9e9" stroke-width="13.5" fill="none"/>
<path d="M2515 2990 L2665 3200" stroke="#e9e9e9" stroke-width="13.5" fill="none"/>
<path d="M2536 2990 L2686 3200" stroke="#e9e9e9" stroke-width="13.5" fill="none"/>
<path d="M2557 2990 L2707 3200" stroke="#e9e9e9" stroke-width="13.5" fill="none"/>
<path d="M2578 2990 L2728 3200" stroke="#e9e9e9" stroke-width="13.5" fill="none"/>
<path d="M2599 2990 L2749 3200" stroke="#e9e9e9" stroke-width="13.5" fill="none"/>
</g>
<path class="k" d="M2025 1085 L2033 1087" style="stroke-width:3.5;stroke:#3a3a3a"/>
<path class="k" d="M2070 1088 L2075 1089" style="stroke-width:3.5;stroke:#3a3a3a"/>
<path class="k" d="M2092 1092 L2101 1095" style="stroke-width:3.5;stroke:#3a3a3a"/>
<path class="k" d="M2030 1098 L2034 1099" style="stroke-width:3.5;stroke:#3a3a3a"/>
<path class="k" d="M1870 1346 L1880 1346" style="stroke-width:3.5;stroke:#3a3a3a"/>
<path class="k" d="M1884 1347 L1892 1348" style="stroke-width:3.5;stroke:#3a3a3a"/>
<path class="k" d="M2005 2292 L2013 2294" style="stroke-width:3.5;stroke:#3a3a3a"/>
<path class="k" d="M2030 2300 L2036 2301" style="stroke-width:3.5;stroke:#3a3a3a"/>
<path class="k" d="M2015 2318 L2024 2316" style="stroke-width:3.5;stroke:#3a3a3a"/>
<path class="k" d="M2038 2326 L2043 2328" style="stroke-width:3.5;stroke:#3a3a3a"/>
<path class="k" d="M298 2350 L302 2353" style="stroke-width:3.5;stroke:#3a3a3a"/>
<path class="k" d="M58 2997 L62 3000" style="stroke-width:3.5;stroke:#3a3a3a"/>
<path class="k" d="M138 3041 L142 3043" style="stroke-width:3.5;stroke:#3a3a3a"/>
<path class="k" d="M1724 2226 L1727 2229" style="stroke-width:3.5;stroke:#3a3a3a"/>
<path class="k" d="M1734 1717 L1737 1719" style="stroke-width:3.5;stroke:#3a3a3a"/>
<path class="k" d="M1299 1836 L1303 1837" style="stroke-width:3.5;stroke:#3a3a3a"/>
<path class="k" d="M208 1002 L213 1004" style="stroke-width:3.5;stroke:#3a3a3a"/>
<path class="k" d="M1866 366 L1871 367" style="stroke-width:3.5;stroke:#3a3a3a"/>
<path class="k" d="M2105 842 L2109 844" style="stroke-width:3.5;stroke:#3a3a3a"/>
<path class="k" d="M1708 1010 L1714 1013" style="stroke-width:3.5;stroke:#3a3a3a"/>
<path class="k" d="M2368 1230 L2372 1234" style="stroke-width:3.5;stroke:#3a3a3a"/>
<path class="k" d="M1845 1216 L1849 1217" style="stroke-width:3.5;stroke:#3a3a3a"/>
<path class="k" d="M1500 1160 L1503 1162" style="stroke-width:3.5;stroke:#3a3a3a"/>
<path class="k" d="M880 1030 L884 1031" style="stroke-width:3.5;stroke:#3a3a3a"/>
<path class="k" d="M1140 2404 L1145 2406" style="stroke-width:3.5;stroke:#3a3a3a"/>
<path class="k" d="M1318 2404 L1322 2406" style="stroke-width:3.5;stroke:#3a3a3a"/>
<path class="k" d="M1205 3002 L1209 3003" style="stroke-width:3.5;stroke:#3a3a3a"/>
<path class="k" d="M2358 3000 L2361 3002" style="stroke-width:3.5;stroke:#3a3a3a"/>
<path class="k" d="M530 3180 L534 3182" style="stroke-width:3.5;stroke:#3a3a3a"/>

</svg>
</body></html>
